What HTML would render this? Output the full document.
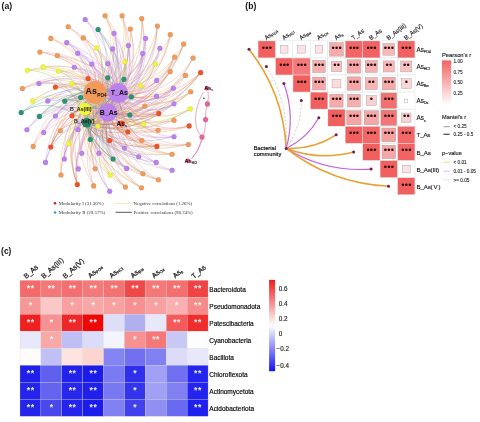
<!DOCTYPE html>
<html><head><meta charset="utf-8"><style>
html,body{margin:0;padding:0;background:#fff;}
body{width:480px;height:422px;overflow:hidden;font-family:"Liberation Sans",sans-serif;}
svg{display:block;filter:blur(0.3px);}
</style></head><body>
<svg width="480" height="422" viewBox="0 0 480 422">
<rect width="480" height="422" fill="#fff"/>
<g fill="none" stroke-width="0.55" stroke-opacity="0.62">
<path d="M68.2,26.7C95.7,42.8 113.5,65.3 118.3,92.9" stroke="#de918d"/>
<path d="M68.2,26.7C96.9,46.4 111.5,79.6 108.0,112.5" stroke="#de918d"/>
<path d="M68.2,26.7C92.2,44.6 98.0,68.2 95.1,92.4" stroke="#f29a5a"/>
<path d="M50.8,38.4C80.0,47.6 93.8,66.4 95.1,92.4" stroke="#f29a5a"/>
<path d="M50.8,38.4C81.8,51.6 102.1,81.6 108.0,112.5" stroke="#de918d"/>
<path d="M50.8,38.4C80.0,51.8 89.5,80.6 84.7,109.0" stroke="#f0ba4f"/>
<path d="M39.8,52.1C72.5,53.4 102.0,66.8 118.3,92.9" stroke="#de918d"/>
<path d="M39.8,52.1C73.2,57.2 99.0,81.5 108.0,112.5" stroke="#de918d"/>
<path d="M39.8,52.1C68.1,56.3 84.7,71.8 95.1,92.4" stroke="#f29a5a"/>
<path d="M57.3,55.5C80.0,60.9 91.2,73.7 95.1,92.4" stroke="#f29a5a"/>
<path d="M57.3,55.5C83.3,59.5 106.2,71.5 118.3,92.9" stroke="#de918d"/>
<path d="M57.3,55.5C84.1,63.0 103.7,85.7 108.0,112.5" stroke="#de918d"/>
<path d="M22.4,88.6C53.6,71.9 90.5,70.7 118.3,92.9" stroke="#de918d"/>
<path d="M22.4,88.6C49.6,76.2 74.0,78.2 95.1,92.4" stroke="#f29a5a"/>
<path d="M22.4,88.6C54.3,76.3 87.6,86.5 108.0,112.5" stroke="#de918d"/>
<path d="M105.1,15.7C124.3,42.2 129.8,67.1 118.3,92.9" stroke="#de918d"/>
<path d="M105.1,15.7C122.3,46.7 122.0,83.0 108.0,112.5" stroke="#de918d"/>
<path d="M105.1,15.7C120.5,44.7 113.7,71.4 95.1,92.4" stroke="#f29a5a"/>
<path d="M105.1,15.7C119.0,48.3 106.9,84.5 84.7,109.0" stroke="#f0ba4f"/>
<path d="M122.1,15.7C133.5,49.9 127.1,85.6 108.0,112.5" stroke="#de918d"/>
<path d="M122.1,15.7C131.9,48.5 119.0,75.0 95.1,92.4" stroke="#f29a5a"/>
<path d="M122.1,15.7C133.8,45.8 131.7,70.3 118.3,92.9" stroke="#de918d"/>
<path d="M122.1,15.7C130.1,51.6 111.5,87.3 84.7,109.0" stroke="#f0ba4f"/>
<path d="M141.7,18.5C148.1,52.0 140.3,75.3 118.3,92.9" stroke="#de918d"/>
<path d="M141.7,18.5C149.7,56.8 139.0,91.8 108.0,112.5" stroke="#de918d"/>
<path d="M141.7,18.5C144.1,54.5 123.8,79.5 95.1,92.4" stroke="#f29a5a"/>
<path d="M141.7,18.5C144.8,59.8 121.7,101.3 86.7,122.8" stroke="#ac9761"/>
<path d="M130.3,29.0C132.5,58.0 115.1,78.6 95.1,92.4" stroke="#f29a5a"/>
<path d="M130.3,29.0C137.5,56.3 133.4,75.9 118.3,92.9" stroke="#de918d"/>
<path d="M130.3,29.0C137.6,60.6 129.4,91.4 108.0,112.5" stroke="#de918d"/>
<path d="M130.3,29.0C134.0,62.7 113.7,93.7 84.7,109.0" stroke="#f0ba4f"/>
<path d="M83.3,37.9C104.5,52.6 117.8,70.0 118.3,92.9" stroke="#de918d"/>
<path d="M83.3,37.9C103.7,57.3 112.3,86.2 108.0,112.5" stroke="#de918d"/>
<path d="M83.3,37.9C100.9,54.8 102.1,73.8 95.1,92.4" stroke="#f29a5a"/>
<path d="M157.4,26.1C151.4,61.5 124.4,82.5 95.1,92.4" stroke="#f29a5a"/>
<path d="M157.4,26.1C155.6,59.7 141.2,79.4 118.3,92.9" stroke="#de918d"/>
<path d="M157.4,26.1C156.1,64.1 137.9,95.2 108.0,112.5" stroke="#de918d"/>
<path d="M157.4,26.1C153.6,68.0 124.9,106.2 86.7,122.8" stroke="#ac9761"/>
<path d="M170.3,34.6C163.9,69.1 146.2,86.4 118.3,92.9" stroke="#de918d"/>
<path d="M170.3,34.6C162.4,71.9 139.2,99.1 108.0,112.5" stroke="#de918d"/>
<path d="M170.3,34.6C158.1,69.3 126.4,86.4 95.1,92.4" stroke="#f29a5a"/>
<path d="M170.3,34.6C160.6,76.2 126.7,105.5 84.7,109.0" stroke="#f0ba4f"/>
<path d="M183.6,44.1C169.9,81.4 142.7,105.3 108.0,112.5" stroke="#de918d"/>
<path d="M183.6,44.1C165.4,78.6 129.4,92.2 95.1,92.4" stroke="#f29a5a"/>
<path d="M183.6,44.1C170.6,78.2 148.0,91.7 118.3,92.9" stroke="#de918d"/>
<path d="M183.6,44.1C166.1,83.8 126.6,108.2 84.7,109.0" stroke="#f0ba4f"/>
<path d="M183.6,44.1C168.7,86.9 132.0,119.2 86.7,122.8" stroke="#ac9761"/>
<path d="M174.5,57.0C161.6,84.7 142.5,93.5 118.3,92.9" stroke="#de918d"/>
<path d="M174.5,57.0C162.7,89.9 140.3,110.6 108.0,112.5" stroke="#de918d"/>
<path d="M174.5,57.0C157.8,87.5 126.3,98.3 95.1,92.4" stroke="#f29a5a"/>
<path d="M174.5,57.0C159.0,92.4 125.1,119.2 86.7,122.8" stroke="#ac9761"/>
<path d="M193.1,58.0C173.4,88.7 147.2,96.2 118.3,92.9" stroke="#de918d"/>
<path d="M193.1,58.0C174.9,94.8 145.6,115.1 108.0,112.5" stroke="#de918d"/>
<path d="M193.1,58.0C171.6,97.5 131.2,124.0 86.7,122.8" stroke="#ac9761"/>
<path d="M170.3,71.6C155.4,93.0 137.8,96.1 118.3,92.9" stroke="#de918d"/>
<path d="M170.3,71.6C155.2,96.5 133.3,110.3 108.0,112.5" stroke="#de918d"/>
<path d="M170.3,71.6C151.8,96.3 122.0,101.8 95.1,92.4" stroke="#f29a5a"/>
<path d="M185.5,75.4C160.6,99.7 124.9,101.8 95.1,92.4" stroke="#f29a5a"/>
<path d="M185.5,75.4C163.4,108.7 126.6,129.9 86.7,122.8" stroke="#ac9761"/>
<path d="M185.5,75.4C165.0,99.6 142.1,101.7 118.3,92.9" stroke="#de918d"/>
<path d="M60.3,130.8C70.3,113.8 90.3,109.0 108.0,112.5" stroke="#de918d"/>
<path d="M60.3,130.8C65.4,111.2 76.3,96.3 95.1,92.4" stroke="#f29a5a"/>
<path d="M60.3,130.8C70.1,109.7 94.0,93.8 118.3,92.9" stroke="#de918d"/>
<path d="M33.2,146.4C49.7,120.0 80.4,111.2 108.0,112.5" stroke="#de918d"/>
<path d="M33.2,146.4C48.2,113.4 81.9,91.6 118.3,92.9" stroke="#de918d"/>
<path d="M33.2,146.4C43.9,115.6 64.9,95.3 95.1,92.4" stroke="#f29a5a"/>
<path d="M61.0,175.0C60.9,142.9 81.0,121.5 108.0,112.5" stroke="#de918d"/>
<path d="M61.0,175.0C58.6,141.9 71.7,111.7 95.1,92.4" stroke="#f29a5a"/>
<path d="M61.0,175.0C62.5,139.9 88.0,108.4 118.3,92.9" stroke="#de918d"/>
<path d="M190.7,91.8C164.8,109.4 140.2,103.6 118.3,92.9" stroke="#de918d"/>
<path d="M190.7,91.8C164.9,114.0 136.2,119.8 108.0,112.5" stroke="#de918d"/>
<path d="M190.7,91.8C162.0,117.0 122.6,129.3 86.7,122.8" stroke="#ac9761"/>
<path d="M190.7,91.8C160.9,111.4 123.9,107.1 95.1,92.4" stroke="#f29a5a"/>
<path d="M190.7,91.8C160.8,116.7 119.6,123.2 84.7,109.0" stroke="#f0ba4f"/>
<path d="M144.8,106.0C127.2,113.6 107.2,106.9 95.1,92.4" stroke="#f29a5a"/>
<path d="M144.8,106.0C131.7,115.0 120.3,117.4 108.0,112.5" stroke="#de918d"/>
<path d="M144.8,106.0C131.5,110.3 124.1,101.3 118.3,92.9" stroke="#de918d"/>
<path d="M144.8,106.0C127.4,116.8 103.3,119.4 84.7,109.0" stroke="#f0ba4f"/>
<path d="M144.8,106.0C129.4,119.8 107.7,130.2 86.7,122.8" stroke="#ac9761"/>
<path d="M174.0,120.2C143.7,129.0 113.2,116.4 95.1,92.4" stroke="#f29a5a"/>
<path d="M174.0,120.2C148.0,131.2 126.2,128.5 108.0,112.5" stroke="#de918d"/>
<path d="M174.0,120.2C147.4,127.0 129.1,113.1 118.3,92.9" stroke="#de918d"/>
<path d="M158.1,130.3C131.7,131.0 107.9,113.9 95.1,92.4" stroke="#f29a5a"/>
<path d="M158.1,130.3C134.9,129.8 122.8,112.0 118.3,92.9" stroke="#de918d"/>
<path d="M158.1,130.3C135.7,133.3 120.1,126.1 108.0,112.5" stroke="#de918d"/>
<path d="M158.1,130.3C131.0,136.3 102.4,130.2 84.7,109.0" stroke="#f0ba4f"/>
<path d="M141.8,140.5C117.8,135.6 99.4,116.2 95.1,92.4" stroke="#f29a5a"/>
<path d="M141.8,140.5C122.6,137.1 113.2,126.9 108.0,112.5" stroke="#de918d"/>
<path d="M141.8,140.5C118.2,139.2 95.9,129.1 84.7,109.0" stroke="#f0ba4f"/>
<path d="M141.8,140.5C122.6,132.7 117.2,111.2 118.3,92.9" stroke="#de918d"/>
<path d="M188.4,144.5C151.6,146.3 128.4,123.2 118.3,92.9" stroke="#de918d"/>
<path d="M188.4,144.5C152.4,150.2 125.7,138.1 108.0,112.5" stroke="#de918d"/>
<path d="M188.4,144.5C147.4,149.3 111.7,128.5 95.1,92.4" stroke="#f29a5a"/>
<path d="M188.4,144.5C150.2,153.2 113.3,147.5 86.7,122.8" stroke="#ac9761"/>
<path d="M95.1,168.8C84.8,141.9 96.5,111.1 118.3,92.9" stroke="#de918d"/>
<path d="M95.1,168.8C80.4,144.4 79.2,115.3 95.1,92.4" stroke="#f29a5a"/>
<path d="M95.1,168.8C86.5,146.6 95.4,127.4 108.0,112.5" stroke="#de918d"/>
<path d="M93.7,185.9C82.5,153.6 96.8,117.1 118.3,92.9" stroke="#de918d"/>
<path d="M93.7,185.9C80.4,157.4 88.9,131.6 108.0,112.5" stroke="#de918d"/>
<path d="M93.7,185.9C75.1,155.4 74.2,120.1 95.1,92.4" stroke="#f29a5a"/>
<path d="M125.4,187.0C101.0,160.5 101.7,122.5 118.3,92.9" stroke="#de918d"/>
<path d="M125.4,187.0C98.6,162.5 88.2,125.9 95.1,92.4" stroke="#f29a5a"/>
<path d="M125.4,187.0C101.0,165.0 97.7,138.5 108.0,112.5" stroke="#de918d"/>
<path d="M125.4,187.0C98.1,169.5 84.0,150.7 86.7,122.8" stroke="#ac9761"/>
<path d="M125.4,187.0C99.2,165.8 85.1,138.6 84.7,109.0" stroke="#f0ba4f"/>
<path d="M172.1,154.2C138.6,149.1 121.5,122.6 118.3,92.9" stroke="#de918d"/>
<path d="M172.1,154.2C135.8,150.3 107.2,124.6 95.1,92.4" stroke="#f29a5a"/>
<path d="M172.1,154.2C139.8,152.7 119.5,137.0 108.0,112.5" stroke="#de918d"/>
<path d="M172.1,154.2C137.1,157.3 106.0,149.3 86.7,122.8" stroke="#ac9761"/>
<path d="M172.1,154.2C134.6,156.3 100.9,142.0 84.7,109.0" stroke="#f0ba4f"/>
<path d="M142.9,173.7C116.5,159.5 107.4,137.2 108.0,112.5" stroke="#de918d"/>
<path d="M142.9,173.7C117.5,154.8 113.3,120.9 118.3,92.9" stroke="#de918d"/>
<path d="M142.9,173.7C111.5,157.9 93.3,126.3 95.1,92.4" stroke="#f29a5a"/>
<path d="M142.9,173.7C114.1,163.2 94.5,148.0 86.7,122.8" stroke="#ac9761"/>
<path d="M158.4,179.8C119.5,166.0 94.8,132.6 95.1,92.4" stroke="#f29a5a"/>
<path d="M158.4,179.8C124.1,167.8 108.2,143.8 108.0,112.5" stroke="#de918d"/>
<path d="M158.4,179.8C122.8,170.9 97.4,153.5 86.7,122.8" stroke="#ac9761"/>
<path d="M158.4,179.8C126.0,162.1 115.8,125.7 118.3,92.9" stroke="#de918d"/>
<path d="M141.4,187.8C111.5,169.0 102.5,142.0 108.0,112.5" stroke="#de918d"/>
<path d="M141.4,187.8C109.8,165.8 94.1,128.2 95.1,92.4" stroke="#f29a5a"/>
<path d="M141.4,187.8C110.9,164.6 105.3,126.2 118.3,92.9" stroke="#de918d"/>
<path d="M141.4,187.8C110.9,171.8 92.7,151.0 86.7,122.8" stroke="#ac9761"/>
<path d="M141.4,187.8C107.9,170.7 86.5,143.6 84.7,109.0" stroke="#f0ba4f"/>
<path d="M66.7,42.6C92.6,56.8 108.0,84.2 108.0,112.5" stroke="#bb82ec"/>
<path d="M66.7,42.6C88.1,58.5 90.8,86.0 84.7,109.0" stroke="#ccaaae"/>
<path d="M66.7,42.6C89.6,54.0 97.6,71.2 95.1,92.4" stroke="#ce8ab8"/>
<path d="M66.7,42.6C91.9,53.0 110.9,69.6 118.3,92.9" stroke="#bb82ec"/>
<path d="M66.7,42.6C91.1,60.3 97.0,94.7 86.7,122.8" stroke="#8888c0"/>
<path d="M77.7,53.2C98.8,65.5 111.4,88.3 108.0,112.5" stroke="#bb82ec"/>
<path d="M77.7,53.2C97.8,61.4 113.8,73.2 118.3,92.9" stroke="#bb82ec"/>
<path d="M77.7,53.2C94.4,63.6 98.3,76.9 95.1,92.4" stroke="#ce8ab8"/>
<path d="M74.3,67.3C93.1,74.4 106.7,92.4 108.0,112.5" stroke="#bb82ec"/>
<path d="M74.3,67.3C92.7,69.9 110.2,76.4 118.3,92.9" stroke="#bb82ec"/>
<path d="M74.3,67.3C88.5,76.4 89.3,94.6 84.7,109.0" stroke="#ccaaae"/>
<path d="M38.9,83.5C65.6,78.8 92.1,92.3 108.0,112.5" stroke="#bb82ec"/>
<path d="M38.9,83.5C61.8,75.4 80.1,78.2 95.1,92.4" stroke="#ce8ab8"/>
<path d="M38.9,83.5C65.5,74.5 96.0,76.9 118.3,92.9" stroke="#bb82ec"/>
<path d="M38.9,83.5C61.8,79.5 76.0,92.3 84.7,109.0" stroke="#ccaaae"/>
<path d="M85.2,19.5C110.4,45.0 119.1,80.2 108.0,112.5" stroke="#bb82ec"/>
<path d="M85.2,19.5C105.2,43.1 104.8,68.8 95.1,92.4" stroke="#ce8ab8"/>
<path d="M85.2,19.5C110.1,40.5 122.8,64.4 118.3,92.9" stroke="#bb82ec"/>
<path d="M114.0,33.3C122.5,58.4 112.7,78.5 95.1,92.4" stroke="#ce8ab8"/>
<path d="M114.0,33.3C125.6,60.2 123.3,89.8 108.0,112.5" stroke="#bb82ec"/>
<path d="M114.0,33.3C123.7,64.1 111.3,101.0 86.7,122.8" stroke="#8888c0"/>
<path d="M114.0,33.3C126.6,55.8 129.3,74.1 118.3,92.9" stroke="#bb82ec"/>
<path d="M145.5,38.4C143.0,69.2 122.2,87.4 95.1,92.4" stroke="#ce8ab8"/>
<path d="M145.5,38.4C145.6,65.7 136.1,81.4 118.3,92.9" stroke="#bb82ec"/>
<path d="M145.5,38.4C147.5,70.8 135.3,98.4 108.0,112.5" stroke="#bb82ec"/>
<path d="M145.5,38.4C143.2,73.1 118.3,101.1 84.7,109.0" stroke="#ccaaae"/>
<path d="M128.4,45.5C132.5,66.9 129.2,80.4 118.3,92.9" stroke="#bb82ec"/>
<path d="M128.4,45.5C129.8,69.8 115.2,85.5 95.1,92.4" stroke="#ce8ab8"/>
<path d="M128.4,45.5C133.3,71.3 126.5,96.2 108.0,112.5" stroke="#bb82ec"/>
<path d="M128.4,45.5C129.3,74.4 110.9,105.9 86.7,122.8" stroke="#8888c0"/>
<path d="M112.7,48.9C117.0,67.9 106.9,82.0 95.1,92.4" stroke="#ce8ab8"/>
<path d="M112.7,48.9C122.8,70.4 122.4,94.4 108.0,112.5" stroke="#bb82ec"/>
<path d="M112.7,48.9C122.5,65.9 125.9,78.5 118.3,92.9" stroke="#bb82ec"/>
<path d="M112.7,48.9C117.0,71.7 102.6,95.4 84.7,109.0" stroke="#ccaaae"/>
<path d="M142.6,53.6C141.2,75.6 133.6,86.1 118.3,92.9" stroke="#bb82ec"/>
<path d="M142.6,53.6C142.0,80.2 130.9,102.2 108.0,112.5" stroke="#bb82ec"/>
<path d="M142.6,53.6C138.0,83.1 115.2,111.5 86.7,122.8" stroke="#8888c0"/>
<path d="M142.6,53.6C136.1,76.7 115.3,88.0 95.1,92.4" stroke="#ce8ab8"/>
<path d="M91.8,64.0C105.8,75.8 113.3,94.6 108.0,112.5" stroke="#bb82ec"/>
<path d="M91.8,64.0C101.0,74.0 99.7,83.2 95.1,92.4" stroke="#ce8ab8"/>
<path d="M91.8,64.0C105.3,71.2 116.6,78.5 118.3,92.9" stroke="#bb82ec"/>
<path d="M107.9,63.6C115.9,79.1 117.0,97.8 108.0,112.5" stroke="#bb82ec"/>
<path d="M107.9,63.6C112.4,81.3 101.5,100.4 84.7,109.0" stroke="#ccaaae"/>
<path d="M107.9,63.6C111.7,77.1 104.4,86.2 95.1,92.4" stroke="#ce8ab8"/>
<path d="M107.9,63.6C115.2,74.9 119.9,82.4 118.3,92.9" stroke="#bb82ec"/>
<path d="M159.9,48.3C149.5,77.8 122.9,91.5 95.1,92.4" stroke="#ce8ab8"/>
<path d="M159.9,48.3C153.4,79.5 135.0,102.5 108.0,112.5" stroke="#bb82ec"/>
<path d="M159.9,48.3C152.8,74.8 138.0,86.2 118.3,92.9" stroke="#bb82ec"/>
<path d="M159.9,48.3C148.6,80.5 117.0,102.9 84.7,109.0" stroke="#ccaaae"/>
<path d="M156.7,80.4C140.4,97.3 115.4,98.4 95.1,92.4" stroke="#ce8ab8"/>
<path d="M156.7,80.4C144.5,95.8 132.0,95.8 118.3,92.9" stroke="#bb82ec"/>
<path d="M156.7,80.4C144.3,99.6 127.6,110.4 108.0,112.5" stroke="#bb82ec"/>
<path d="M173.4,88.2C154.1,108.4 131.7,116.3 108.0,112.5" stroke="#bb82ec"/>
<path d="M173.4,88.2C154.1,105.3 135.8,102.8 118.3,92.9" stroke="#bb82ec"/>
<path d="M173.4,88.2C150.1,107.0 119.4,105.7 95.1,92.4" stroke="#ce8ab8"/>
<path d="M173.4,88.2C152.0,113.3 119.3,129.0 86.7,122.8" stroke="#8888c0"/>
<path d="M47.8,100.9C68.4,90.5 92.4,96.3 108.0,112.5" stroke="#bb82ec"/>
<path d="M47.8,100.9C67.8,86.0 95.4,80.2 118.3,92.9" stroke="#bb82ec"/>
<path d="M47.8,100.9C63.8,94.0 74.8,101.0 84.7,109.0" stroke="#ccaaae"/>
<path d="M47.8,100.9C64.1,90.3 79.6,87.8 95.1,92.4" stroke="#ce8ab8"/>
<path d="M55.4,116.0C69.6,97.9 94.6,86.8 118.3,92.9" stroke="#bb82ec"/>
<path d="M55.4,116.0C66.2,101.5 79.3,92.9 95.1,92.4" stroke="#ce8ab8"/>
<path d="M55.4,116.0C70.2,103.8 91.7,105.1 108.0,112.5" stroke="#bb82ec"/>
<path d="M26.9,129.7C47.8,101.4 83.7,86.1 118.3,92.9" stroke="#bb82ec"/>
<path d="M26.9,129.7C48.3,106.1 80.4,102.4 108.0,112.5" stroke="#bb82ec"/>
<path d="M26.9,129.7C44.1,108.2 63.6,104.7 84.7,109.0" stroke="#ccaaae"/>
<path d="M43.6,132.5C58.8,111.5 84.9,106.3 108.0,112.5" stroke="#bb82ec"/>
<path d="M43.6,132.5C57.7,105.7 87.1,88.1 118.3,92.9" stroke="#bb82ec"/>
<path d="M43.6,132.5C55.0,110.0 72.9,95.7 95.1,92.4" stroke="#ce8ab8"/>
<path d="M77.9,129.5C78.0,114.7 83.0,100.3 95.1,92.4" stroke="#ce8ab8"/>
<path d="M77.9,129.5C82.2,116.5 95.6,111.6 108.0,112.5" stroke="#bb82ec"/>
<path d="M77.9,129.5C82.1,112.5 99.6,96.6 118.3,92.9" stroke="#bb82ec"/>
<path d="M64.4,159.0C67.7,129.8 91.3,103.9 118.3,92.9" stroke="#bb82ec"/>
<path d="M64.4,159.0C66.6,133.0 85.2,117.4 108.0,112.5" stroke="#bb82ec"/>
<path d="M64.4,159.0C64.3,137.2 72.6,129.1 86.7,122.8" stroke="#8888c0"/>
<path d="M64.4,159.0C62.9,135.3 69.3,120.2 84.7,109.0" stroke="#ccaaae"/>
<path d="M45.5,162.4C48.4,128.9 64.8,102.5 95.1,92.4" stroke="#ce8ab8"/>
<path d="M45.5,162.4C53.9,131.8 80.0,115.9 108.0,112.5" stroke="#bb82ec"/>
<path d="M45.5,162.4C51.9,136.3 67.9,128.0 86.7,122.8" stroke="#8888c0"/>
<path d="M78.3,168.9C70.4,141.0 76.3,112.3 95.1,92.4" stroke="#ce8ab8"/>
<path d="M78.3,168.9C69.6,144.8 70.7,125.7 84.7,109.0" stroke="#ccaaae"/>
<path d="M78.3,168.9C75.1,143.4 89.9,124.6 108.0,112.5" stroke="#bb82ec"/>
<path d="M124.5,148.0C110.1,138.3 107.6,125.6 108.0,112.5" stroke="#bb82ec"/>
<path d="M124.5,148.0C104.8,136.8 92.9,114.9 95.1,92.4" stroke="#ce8ab8"/>
<path d="M124.5,148.0C107.1,142.4 93.6,137.0 86.7,122.8" stroke="#8888c0"/>
<path d="M124.5,148.0C109.4,134.3 110.4,110.5 118.3,92.9" stroke="#bb82ec"/>
<path d="M156.5,96.2C141.2,106.3 129.2,100.7 118.3,92.9" stroke="#bb82ec"/>
<path d="M156.5,96.2C141.7,111.4 125.9,117.6 108.0,112.5" stroke="#bb82ec"/>
<path d="M156.5,96.2C137.3,108.4 112.9,104.1 95.1,92.4" stroke="#ce8ab8"/>
<path d="M174.0,103.7C151.4,118.2 129.1,119.8 108.0,112.5" stroke="#bb82ec"/>
<path d="M174.0,103.7C147.4,117.2 116.7,109.9 95.1,92.4" stroke="#ce8ab8"/>
<path d="M174.0,103.7C151.1,115.9 132.8,107.8 118.3,92.9" stroke="#bb82ec"/>
<path d="M174.0,103.7C149.3,124.4 116.8,135.0 86.7,122.8" stroke="#8888c0"/>
<path d="M174.0,136.7C144.8,141.1 123.5,131.4 108.0,112.5" stroke="#bb82ec"/>
<path d="M174.0,136.7C142.3,144.8 110.5,142.1 86.7,122.8" stroke="#8888c0"/>
<path d="M174.0,136.7C139.6,140.9 109.0,123.0 95.1,92.4" stroke="#ce8ab8"/>
<path d="M174.0,136.7C145.2,136.0 128.4,114.5 118.3,92.9" stroke="#bb82ec"/>
<path d="M81.8,153.3C80.6,133.8 93.7,120.6 108.0,112.5" stroke="#bb82ec"/>
<path d="M81.8,153.3C75.2,131.2 78.8,108.0 95.1,92.4" stroke="#ce8ab8"/>
<path d="M81.8,153.3C79.7,129.0 96.3,104.3 118.3,92.9" stroke="#bb82ec"/>
<path d="M98.9,153.3C90.7,132.4 100.8,107.3 118.3,92.9" stroke="#bb82ec"/>
<path d="M98.9,153.3C87.5,134.8 85.7,111.3 95.1,92.4" stroke="#ce8ab8"/>
<path d="M98.9,153.3C87.4,138.6 81.3,124.7 84.7,109.0" stroke="#ccaaae"/>
<path d="M138.7,156.7C117.2,142.9 113.4,115.6 118.3,92.9" stroke="#bb82ec"/>
<path d="M138.7,156.7C116.2,148.0 107.4,132.6 108.0,112.5" stroke="#bb82ec"/>
<path d="M138.7,156.7C111.8,146.1 94.4,121.0 95.1,92.4" stroke="#ce8ab8"/>
<path d="M138.7,156.7C111.8,150.3 90.3,135.3 84.7,109.0" stroke="#ccaaae"/>
<path d="M138.7,156.7C114.9,150.8 96.6,141.7 86.7,122.8" stroke="#8888c0"/>
<path d="M126.7,168.4C105.1,148.5 104.6,117.4 118.3,92.9" stroke="#bb82ec"/>
<path d="M126.7,168.4C103.3,150.3 91.9,120.5 95.1,92.4" stroke="#ce8ab8"/>
<path d="M126.7,168.4C106.6,152.7 103.1,132.8 108.0,112.5" stroke="#bb82ec"/>
<path d="M126.7,168.4C103.6,157.1 89.3,144.7 86.7,122.8" stroke="#8888c0"/>
<path d="M126.7,168.4C101.8,155.0 85.1,135.4 84.7,109.0" stroke="#ccaaae"/>
<path d="M109.7,191.2C91.2,160.0 99.0,120.9 118.3,92.9" stroke="#bb82ec"/>
<path d="M109.7,191.2C89.3,164.4 91.5,136.5 108.0,112.5" stroke="#bb82ec"/>
<path d="M109.7,191.2C87.7,162.1 83.4,124.4 95.1,92.4" stroke="#ce8ab8"/>
<path d="M156.2,162.4C128.6,153.8 115.0,134.7 108.0,112.5" stroke="#bb82ec"/>
<path d="M156.2,162.4C126.1,151.1 114.8,121.9 118.3,92.9" stroke="#bb82ec"/>
<path d="M156.2,162.4C125.5,158.0 101.0,146.2 86.7,122.8" stroke="#8888c0"/>
<path d="M172.1,170.3C136.6,158.7 120.8,125.6 118.3,92.9" stroke="#bb82ec"/>
<path d="M172.1,170.3C131.0,162.5 101.6,132.2 95.1,92.4" stroke="#ce8ab8"/>
<path d="M172.1,170.3C132.3,165.0 99.8,143.3 84.7,109.0" stroke="#ccaaae"/>
<path d="M27.5,70.3C57.0,64.2 79.3,72.0 95.1,92.4" stroke="#f0be4e"/>
<path d="M27.5,70.3C61.8,65.5 93.0,82.4 108.0,112.5" stroke="#cfb0a5"/>
<path d="M27.5,70.3C61.1,61.3 95.8,67.1 118.3,92.9" stroke="#cfb0a5"/>
<path d="M27.5,70.3C57.3,67.9 75.7,85.4 84.7,109.0" stroke="#eef63c"/>
<path d="M27.5,70.3C58.4,71.0 78.3,96.4 86.7,122.8" stroke="#78bb5b"/>
<path d="M43.2,66.9C68.1,65.5 84.6,74.5 95.1,92.4" stroke="#f0be4e"/>
<path d="M43.2,66.9C71.6,68.8 95.9,88.4 108.0,112.5" stroke="#cfb0a5"/>
<path d="M43.2,66.9C71.9,63.4 100.7,70.9 118.3,92.9" stroke="#cfb0a5"/>
<path d="M43.2,66.9C68.2,69.4 80.6,88.2 84.7,109.0" stroke="#eef63c"/>
<path d="M58.4,71.0C81.1,69.6 104.3,75.6 118.3,92.9" stroke="#cfb0a5"/>
<path d="M58.4,71.0C77.6,71.2 88.7,78.2 95.1,92.4" stroke="#f0be4e"/>
<path d="M58.4,71.0C82.3,72.7 102.4,89.0 108.0,112.5" stroke="#cfb0a5"/>
<path d="M58.4,71.0C78.7,77.8 87.3,102.3 86.7,122.8" stroke="#78bb5b"/>
<path d="M71.9,83.8C83.6,83.0 89.8,85.4 95.1,92.4" stroke="#f0be4e"/>
<path d="M71.9,83.8C85.1,89.1 89.1,108.5 86.7,122.8" stroke="#78bb5b"/>
<path d="M71.9,83.8C87.6,80.2 106.3,80.6 118.3,92.9" stroke="#cfb0a5"/>
<path d="M71.9,83.8C87.4,85.6 101.7,98.2 108.0,112.5" stroke="#cfb0a5"/>
<path d="M96.5,47.9C106.7,64.2 102.7,79.3 95.1,92.4" stroke="#f0be4e"/>
<path d="M96.5,47.9C110.7,66.4 115.0,91.3 108.0,112.5" stroke="#cfb0a5"/>
<path d="M96.5,47.9C110.5,62.3 118.7,76.0 118.3,92.9" stroke="#cfb0a5"/>
<path d="M96.5,47.9C108.8,70.2 102.9,102.1 86.7,122.8" stroke="#78bb5b"/>
<path d="M125.0,61.6C123.7,79.5 110.2,89.1 95.1,92.4" stroke="#f0be4e"/>
<path d="M125.0,61.6C127.9,77.1 127.0,85.0 118.3,92.9" stroke="#cfb0a5"/>
<path d="M125.0,61.6C128.0,81.4 123.1,100.6 108.0,112.5" stroke="#cfb0a5"/>
<path d="M125.0,61.6C124.2,83.7 106.9,103.3 84.7,109.0" stroke="#eef63c"/>
<path d="M125.0,61.6C125.5,85.4 110.1,111.9 86.7,122.8" stroke="#78bb5b"/>
<path d="M140.7,85.7C128.8,98.1 109.9,98.0 95.1,92.4" stroke="#f0be4e"/>
<path d="M140.7,85.7C132.9,96.5 126.5,95.3 118.3,92.9" stroke="#cfb0a5"/>
<path d="M140.7,85.7C133.6,101.1 123.6,111.5 108.0,112.5" stroke="#cfb0a5"/>
<path d="M155.2,64.0C142.8,86.7 118.0,94.2 95.1,92.4" stroke="#f0be4e"/>
<path d="M155.2,64.0C146.8,88.7 130.3,105.8 108.0,112.5" stroke="#cfb0a5"/>
<path d="M155.2,64.0C146.9,84.7 134.5,90.8 118.3,92.9" stroke="#cfb0a5"/>
<path d="M155.2,64.0C142.8,90.6 113.8,107.9 84.7,109.0" stroke="#eef63c"/>
<path d="M32.6,100.9C57.7,82.7 90.9,77.2 118.3,92.9" stroke="#cfb0a5"/>
<path d="M32.6,100.9C53.8,85.4 74.6,81.9 95.1,92.4" stroke="#f0be4e"/>
<path d="M32.6,100.9C58.1,88.6 87.5,95.6 108.0,112.5" stroke="#cfb0a5"/>
<path d="M32.6,100.9C53.7,91.0 70.3,98.6 84.7,109.0" stroke="#eef63c"/>
<path d="M68.6,143.6C72.8,123.7 89.8,113.7 108.0,112.5" stroke="#cfb0a5"/>
<path d="M68.6,143.6C68.9,122.1 77.6,102.8 95.1,92.4" stroke="#f0be4e"/>
<path d="M68.6,143.6C73.8,120.7 95.6,100.5 118.3,92.9" stroke="#cfb0a5"/>
<path d="M68.6,143.6C68.9,126.0 73.4,116.4 84.7,109.0" stroke="#eef63c"/>
<path d="M97.8,126.0C96.2,114.3 106.5,99.3 118.3,92.9" stroke="#cfb0a5"/>
<path d="M97.8,126.0C96.1,118.4 102.1,114.4 108.0,112.5" stroke="#cfb0a5"/>
<path d="M97.8,126.0C91.6,116.5 88.9,103.0 95.1,92.4" stroke="#f0be4e"/>
<path d="M97.8,126.0C91.9,120.4 85.2,116.7 84.7,109.0" stroke="#eef63c"/>
<path d="M190.3,108.9C160.7,123.4 136.4,113.6 118.3,92.9" stroke="#cfb0a5"/>
<path d="M190.3,108.9C157.1,128.1 116.4,128.5 84.7,109.0" stroke="#eef63c"/>
<path d="M190.3,108.9C157.0,124.7 120.5,115.7 95.1,92.4" stroke="#f0be4e"/>
<path d="M190.3,108.9C161.3,126.7 133.4,127.4 108.0,112.5" stroke="#cfb0a5"/>
<path d="M190.3,108.9C158.7,129.1 120.1,135.9 86.7,122.8" stroke="#78bb5b"/>
<path d="M143.6,124.0C123.4,123.9 104.7,109.5 95.1,92.4" stroke="#f0be4e"/>
<path d="M143.6,124.0C127.1,126.7 116.5,122.7 108.0,112.5" stroke="#cfb0a5"/>
<path d="M143.6,124.0C126.6,122.5 119.8,107.2 118.3,92.9" stroke="#cfb0a5"/>
<path d="M143.6,124.0C122.9,128.2 99.7,123.8 84.7,109.0" stroke="#eef63c"/>
<path d="M110.2,175.1C89.1,151.9 82.6,120.3 95.1,92.4" stroke="#f0be4e"/>
<path d="M110.2,175.1C94.5,153.7 97.3,131.7 108.0,112.5" stroke="#cfb0a5"/>
<path d="M110.2,175.1C95.1,149.5 102.6,116.2 118.3,92.9" stroke="#cfb0a5"/>
<path d="M110.2,175.1C89.4,155.8 78.9,134.0 84.7,109.0" stroke="#eef63c"/>
<path d="M55.4,87.0C72.0,81.3 84.3,82.7 95.1,92.4" stroke="#ef6c39"/>
<path d="M55.4,87.0C75.9,84.4 96.4,96.2 108.0,112.5" stroke="#dc646c"/>
<path d="M55.4,87.0C73.3,88.0 83.4,106.7 86.7,122.8" stroke="#a96a41"/>
<path d="M88.1,78.6C99.4,80.5 112.0,82.8 118.3,92.9" stroke="#dc646c"/>
<path d="M88.1,78.6C99.4,85.1 107.8,98.9 108.0,112.5" stroke="#dc646c"/>
<path d="M88.1,78.6C95.4,86.8 91.4,100.5 84.7,109.0" stroke="#ee8c2f"/>
<path d="M72.0,115.8C81.2,106.0 96.5,106.2 108.0,112.5" stroke="#dc646c"/>
<path d="M72.0,115.8C81.0,102.1 100.2,91.3 118.3,92.9" stroke="#dc646c"/>
<path d="M72.0,115.8C77.4,104.7 84.6,95.9 95.1,92.4" stroke="#ef6c39"/>
<path d="M50.8,147.0C60.5,118.5 88.2,96.9 118.3,92.9" stroke="#dc646c"/>
<path d="M50.8,147.0C55.7,123.9 66.2,113.0 84.7,109.0" stroke="#ee8c2f"/>
<path d="M50.8,147.0C60.3,122.1 83.8,111.2 108.0,112.5" stroke="#dc646c"/>
<path d="M50.8,147.0C57.0,121.1 72.7,101.4 95.1,92.4" stroke="#ef6c39"/>
<path d="M50.8,147.0C57.7,126.0 70.7,122.3 86.7,122.8" stroke="#a96a41"/>
<path d="M77.3,184.5C65.6,151.0 71.6,116.5 95.1,92.4" stroke="#ef6c39"/>
<path d="M77.3,184.5C71.4,153.5 87.0,129.1 108.0,112.5" stroke="#dc646c"/>
<path d="M77.3,184.5C70.5,148.9 89.6,113.0 118.3,92.9" stroke="#dc646c"/>
<path d="M77.3,184.5C66.1,155.0 68.3,130.3 84.7,109.0" stroke="#ee8c2f"/>
<path d="M77.3,184.5C67.6,157.0 71.7,139.5 86.7,122.8" stroke="#a96a41"/>
<path d="M200.6,72.6C171.1,100.1 129.7,102.2 95.1,92.4" stroke="#ef6c39"/>
<path d="M200.6,72.6C175.7,101.2 147.3,104.2 118.3,92.9" stroke="#dc646c"/>
<path d="M200.6,72.6C176.1,105.3 143.9,119.4 108.0,112.5" stroke="#dc646c"/>
<path d="M200.6,72.6C171.4,106.0 126.1,119.3 84.7,109.0" stroke="#ee8c2f"/>
<path d="M200.6,72.6C173.7,109.4 131.1,131.0 86.7,122.8" stroke="#a96a41"/>
<path d="M158.8,113.6C135.0,121.5 109.9,111.6 95.1,92.4" stroke="#ef6c39"/>
<path d="M158.8,113.6C139.4,122.4 123.1,121.4 108.0,112.5" stroke="#dc646c"/>
<path d="M158.8,113.6C136.9,127.0 110.1,133.7 86.7,122.8" stroke="#a96a41"/>
<path d="M158.8,113.6C139.1,118.5 126.7,106.5 118.3,92.9" stroke="#dc646c"/>
<path d="M189.1,125.9C156.1,134.3 132.3,118.3 118.3,92.9" stroke="#dc646c"/>
<path d="M189.1,125.9C152.4,136.3 116.5,121.7 95.1,92.4" stroke="#ef6c39"/>
<path d="M189.1,125.9C152.8,138.5 113.1,132.1 84.7,109.0" stroke="#ee8c2f"/>
<path d="M156.9,146.4C131.1,139.9 120.1,116.0 118.3,92.9" stroke="#dc646c"/>
<path d="M156.9,146.4C126.3,143.2 102.2,121.7 95.1,92.4" stroke="#ef6c39"/>
<path d="M156.9,146.4C131.0,144.7 115.9,132.5 108.0,112.5" stroke="#dc646c"/>
<path d="M156.9,146.4C126.5,147.2 98.4,135.6 84.7,109.0" stroke="#ee8c2f"/>
<path d="M156.9,146.4C128.9,148.1 103.5,142.6 86.7,122.8" stroke="#a96a41"/>
<path d="M109.7,140.5C100.6,126.2 106.4,105.5 118.3,92.9" stroke="#dc646c"/>
<path d="M109.7,140.5C101.5,130.6 104.0,121.2 108.0,112.5" stroke="#dc646c"/>
<path d="M109.7,140.5C98.3,135.0 89.7,133.2 86.7,122.8" stroke="#a96a41"/>
<path d="M127.8,132.0C110.3,127.0 96.8,111.0 95.1,92.4" stroke="#ef6c39"/>
<path d="M127.8,132.0C115.2,128.5 110.7,121.6 108.0,112.5" stroke="#dc646c"/>
<path d="M127.8,132.0C113.9,124.5 112.6,106.7 118.3,92.9" stroke="#dc646c"/>
<path d="M127.8,132.0C110.7,130.6 93.3,124.0 84.7,109.0" stroke="#ee8c2f"/>
<path d="M127.8,132.0C112.4,132.9 97.2,133.7 86.7,122.8" stroke="#a96a41"/>
<path d="M98.1,29.5C117.6,54.3 122.5,85.5 108.0,112.5" stroke="#5c8d9b"/>
<path d="M98.1,29.5C116.5,49.9 124.7,69.9 118.3,92.9" stroke="#5c8d9b"/>
<path d="M98.1,29.5C111.7,52.3 106.7,74.0 95.1,92.4" stroke="#6f9668"/>
<path d="M107.7,77.8C113.2,88.5 114.9,102.0 108.0,112.5" stroke="#5c8d9b"/>
<path d="M107.7,77.8C112.5,84.2 117.8,86.5 118.3,92.9" stroke="#5c8d9b"/>
<path d="M107.7,77.8C110.0,92.3 100.8,112.9 86.7,122.8" stroke="#2a9470"/>
<path d="M123.9,79.2C119.1,90.8 106.2,93.9 95.1,92.4" stroke="#6f9668"/>
<path d="M123.9,79.2C122.9,88.4 122.2,89.7 118.3,92.9" stroke="#5c8d9b"/>
<path d="M123.9,79.2C119.5,95.2 102.8,108.4 84.7,109.0" stroke="#6eb65d"/>
<path d="M64.8,101.2C75.4,93.6 84.6,90.3 95.1,92.4" stroke="#6f9668"/>
<path d="M64.8,101.2C79.1,90.4 100.6,84.7 118.3,92.9" stroke="#5c8d9b"/>
<path d="M64.8,101.2C75.3,96.7 80.4,102.5 84.7,109.0" stroke="#6eb65d"/>
<path d="M64.8,101.2C79.7,94.3 97.5,99.6 108.0,112.5" stroke="#5c8d9b"/>
<path d="M80.6,97.5C90.5,92.2 106.3,88.4 118.3,92.9" stroke="#5c8d9b"/>
<path d="M80.6,97.5C86.5,93.9 89.7,91.1 95.1,92.4" stroke="#6f9668"/>
<path d="M80.6,97.5C87.8,100.0 88.8,114.3 86.7,122.8" stroke="#2a9470"/>
<path d="M21.2,112.6C48.1,94.1 81.9,97.2 108.0,112.5" stroke="#5c8d9b"/>
<path d="M21.2,112.6C47.9,90.1 85.8,82.2 118.3,92.9" stroke="#5c8d9b"/>
<path d="M21.2,112.6C45.6,97.8 68.9,107.9 86.7,122.8" stroke="#2a9470"/>
<path d="M39.4,116.4C55.3,98.3 74.2,89.9 95.1,92.4" stroke="#6f9668"/>
<path d="M39.4,116.4C59.3,96.2 90.6,86.3 118.3,92.9" stroke="#5c8d9b"/>
<path d="M39.4,116.4C59.5,101.0 86.8,102.7 108.0,112.5" stroke="#5c8d9b"/>
<path d="M131.4,96.8C124.7,106.1 117.9,112.2 108.0,112.5" stroke="#5c8d9b"/>
<path d="M131.4,96.8C120.5,103.7 105.2,99.8 95.1,92.4" stroke="#6f9668"/>
<path d="M131.4,96.8C124.3,101.8 121.4,96.8 118.3,92.9" stroke="#5c8d9b"/>
<path d="M129.9,115.0C119.8,113.4 118.1,101.5 118.3,92.9" stroke="#5c8d9b"/>
<path d="M129.9,115.0C119.8,118.3 114.0,118.1 108.0,112.5" stroke="#5c8d9b"/>
<path d="M129.9,115.0C115.2,116.5 100.5,106.9 95.1,92.4" stroke="#6f9668"/>
<path d="M90.3,139.5C88.3,125.8 97.4,117.1 108.0,112.5" stroke="#5c8d9b"/>
<path d="M90.3,139.5C88.9,122.0 102.6,102.5 118.3,92.9" stroke="#5c8d9b"/>
<path d="M90.3,139.5C84.8,123.9 85.9,105.7 95.1,92.4" stroke="#6f9668"/>
<path d="M113.1,159.0C100.6,139.4 106.8,111.9 118.3,92.9" stroke="#5c8d9b"/>
<path d="M113.1,159.0C96.0,141.4 89.3,115.4 95.1,92.4" stroke="#6f9668"/>
<path d="M113.1,159.0C99.1,143.7 100.1,127.5 108.0,112.5" stroke="#5c8d9b"/>
<path d="M113.1,159.0C97.8,147.0 89.2,137.6 86.7,122.8" stroke="#2a9470"/>
</g>
<g fill="none" stroke="#e86c8c" stroke-width="0.6">
<path d="M203.5,92 C194,108 192.5,128 202,137"/>
<path d="M202,137 Q199,151 191.5,158.5"/>
<path d="M208,92 Q209,97 207.4,104 Q205,112 205.6,119.5 Q206,133 198,150 Q195,155 191.5,158.5"/>
</g>
<circle cx="68.2" cy="26.7" r="2.55" fill="#f29a5a" stroke="#000" stroke-opacity="0.13" stroke-width="0.45"/>
<circle cx="50.8" cy="38.4" r="2.55" fill="#f29a5a" stroke="#000" stroke-opacity="0.13" stroke-width="0.45"/>
<circle cx="39.8" cy="52.1" r="2.55" fill="#f29a5a" stroke="#000" stroke-opacity="0.13" stroke-width="0.45"/>
<circle cx="57.3" cy="55.5" r="2.55" fill="#f29a5a" stroke="#000" stroke-opacity="0.13" stroke-width="0.45"/>
<circle cx="22.4" cy="88.6" r="2.55" fill="#f29a5a" stroke="#000" stroke-opacity="0.13" stroke-width="0.45"/>
<circle cx="105.1" cy="15.7" r="2.55" fill="#f29a5a" stroke="#000" stroke-opacity="0.13" stroke-width="0.45"/>
<circle cx="122.1" cy="15.7" r="2.55" fill="#f29a5a" stroke="#000" stroke-opacity="0.13" stroke-width="0.45"/>
<circle cx="141.7" cy="18.5" r="2.55" fill="#f29a5a" stroke="#000" stroke-opacity="0.13" stroke-width="0.45"/>
<circle cx="130.3" cy="29" r="2.55" fill="#f29a5a" stroke="#000" stroke-opacity="0.13" stroke-width="0.45"/>
<circle cx="83.3" cy="37.9" r="2.55" fill="#f29a5a" stroke="#000" stroke-opacity="0.13" stroke-width="0.45"/>
<circle cx="157.4" cy="26.1" r="2.55" fill="#f29a5a" stroke="#000" stroke-opacity="0.13" stroke-width="0.45"/>
<circle cx="170.3" cy="34.6" r="2.55" fill="#f29a5a" stroke="#000" stroke-opacity="0.13" stroke-width="0.45"/>
<circle cx="183.6" cy="44.1" r="2.55" fill="#f29a5a" stroke="#000" stroke-opacity="0.13" stroke-width="0.45"/>
<circle cx="174.5" cy="57" r="2.55" fill="#f29a5a" stroke="#000" stroke-opacity="0.13" stroke-width="0.45"/>
<circle cx="193.1" cy="58" r="2.55" fill="#f29a5a" stroke="#000" stroke-opacity="0.13" stroke-width="0.45"/>
<circle cx="170.3" cy="71.6" r="2.55" fill="#f29a5a" stroke="#000" stroke-opacity="0.13" stroke-width="0.45"/>
<circle cx="185.5" cy="75.4" r="2.55" fill="#f29a5a" stroke="#000" stroke-opacity="0.13" stroke-width="0.45"/>
<circle cx="60.3" cy="130.8" r="2.55" fill="#f29a5a" stroke="#000" stroke-opacity="0.13" stroke-width="0.45"/>
<circle cx="33.2" cy="146.4" r="2.55" fill="#f29a5a" stroke="#000" stroke-opacity="0.13" stroke-width="0.45"/>
<circle cx="61" cy="175" r="2.55" fill="#f29a5a" stroke="#000" stroke-opacity="0.13" stroke-width="0.45"/>
<circle cx="190.7" cy="91.8" r="2.55" fill="#f29a5a" stroke="#000" stroke-opacity="0.13" stroke-width="0.45"/>
<circle cx="144.8" cy="106" r="2.55" fill="#f29a5a" stroke="#000" stroke-opacity="0.13" stroke-width="0.45"/>
<circle cx="174" cy="120.2" r="2.55" fill="#f29a5a" stroke="#000" stroke-opacity="0.13" stroke-width="0.45"/>
<circle cx="158.1" cy="130.3" r="2.55" fill="#f29a5a" stroke="#000" stroke-opacity="0.13" stroke-width="0.45"/>
<circle cx="141.8" cy="140.5" r="2.55" fill="#f29a5a" stroke="#000" stroke-opacity="0.13" stroke-width="0.45"/>
<circle cx="188.4" cy="144.5" r="2.55" fill="#f29a5a" stroke="#000" stroke-opacity="0.13" stroke-width="0.45"/>
<circle cx="95.1" cy="168.8" r="2.55" fill="#f29a5a" stroke="#000" stroke-opacity="0.13" stroke-width="0.45"/>
<circle cx="93.7" cy="185.9" r="2.55" fill="#f29a5a" stroke="#000" stroke-opacity="0.13" stroke-width="0.45"/>
<circle cx="125.4" cy="187" r="2.55" fill="#f29a5a" stroke="#000" stroke-opacity="0.13" stroke-width="0.45"/>
<circle cx="172.1" cy="154.2" r="2.55" fill="#f29a5a" stroke="#000" stroke-opacity="0.13" stroke-width="0.45"/>
<circle cx="142.9" cy="173.7" r="2.55" fill="#f29a5a" stroke="#000" stroke-opacity="0.13" stroke-width="0.45"/>
<circle cx="158.4" cy="179.8" r="2.55" fill="#f29a5a" stroke="#000" stroke-opacity="0.13" stroke-width="0.45"/>
<circle cx="141.4" cy="187.8" r="2.55" fill="#f29a5a" stroke="#000" stroke-opacity="0.13" stroke-width="0.45"/>
<circle cx="66.7" cy="42.6" r="2.55" fill="#bb82ec" stroke="#000" stroke-opacity="0.13" stroke-width="0.45"/>
<circle cx="77.7" cy="53.2" r="2.55" fill="#bb82ec" stroke="#000" stroke-opacity="0.13" stroke-width="0.45"/>
<circle cx="74.3" cy="67.3" r="2.55" fill="#bb82ec" stroke="#000" stroke-opacity="0.13" stroke-width="0.45"/>
<circle cx="38.9" cy="83.5" r="2.55" fill="#bb82ec" stroke="#000" stroke-opacity="0.13" stroke-width="0.45"/>
<circle cx="85.2" cy="19.5" r="2.55" fill="#bb82ec" stroke="#000" stroke-opacity="0.13" stroke-width="0.45"/>
<circle cx="114" cy="33.3" r="2.55" fill="#bb82ec" stroke="#000" stroke-opacity="0.13" stroke-width="0.45"/>
<circle cx="145.5" cy="38.4" r="2.55" fill="#bb82ec" stroke="#000" stroke-opacity="0.13" stroke-width="0.45"/>
<circle cx="128.4" cy="45.5" r="2.55" fill="#bb82ec" stroke="#000" stroke-opacity="0.13" stroke-width="0.45"/>
<circle cx="112.7" cy="48.9" r="2.55" fill="#bb82ec" stroke="#000" stroke-opacity="0.13" stroke-width="0.45"/>
<circle cx="142.6" cy="53.6" r="2.55" fill="#bb82ec" stroke="#000" stroke-opacity="0.13" stroke-width="0.45"/>
<circle cx="91.8" cy="64" r="2.55" fill="#bb82ec" stroke="#000" stroke-opacity="0.13" stroke-width="0.45"/>
<circle cx="107.9" cy="63.6" r="2.55" fill="#bb82ec" stroke="#000" stroke-opacity="0.13" stroke-width="0.45"/>
<circle cx="159.9" cy="48.3" r="2.55" fill="#bb82ec" stroke="#000" stroke-opacity="0.13" stroke-width="0.45"/>
<circle cx="156.7" cy="80.4" r="2.55" fill="#bb82ec" stroke="#000" stroke-opacity="0.13" stroke-width="0.45"/>
<circle cx="173.4" cy="88.2" r="2.55" fill="#bb82ec" stroke="#000" stroke-opacity="0.13" stroke-width="0.45"/>
<circle cx="47.8" cy="100.9" r="2.55" fill="#bb82ec" stroke="#000" stroke-opacity="0.13" stroke-width="0.45"/>
<circle cx="55.4" cy="116" r="2.55" fill="#bb82ec" stroke="#000" stroke-opacity="0.13" stroke-width="0.45"/>
<circle cx="26.9" cy="129.7" r="2.55" fill="#bb82ec" stroke="#000" stroke-opacity="0.13" stroke-width="0.45"/>
<circle cx="43.6" cy="132.5" r="2.55" fill="#bb82ec" stroke="#000" stroke-opacity="0.13" stroke-width="0.45"/>
<circle cx="77.9" cy="129.5" r="2.55" fill="#bb82ec" stroke="#000" stroke-opacity="0.13" stroke-width="0.45"/>
<circle cx="64.4" cy="159" r="2.55" fill="#bb82ec" stroke="#000" stroke-opacity="0.13" stroke-width="0.45"/>
<circle cx="45.5" cy="162.4" r="2.55" fill="#bb82ec" stroke="#000" stroke-opacity="0.13" stroke-width="0.45"/>
<circle cx="78.3" cy="168.9" r="2.55" fill="#bb82ec" stroke="#000" stroke-opacity="0.13" stroke-width="0.45"/>
<circle cx="124.5" cy="148" r="2.55" fill="#bb82ec" stroke="#000" stroke-opacity="0.13" stroke-width="0.45"/>
<circle cx="156.5" cy="96.2" r="2.55" fill="#bb82ec" stroke="#000" stroke-opacity="0.13" stroke-width="0.45"/>
<circle cx="174" cy="103.7" r="2.55" fill="#bb82ec" stroke="#000" stroke-opacity="0.13" stroke-width="0.45"/>
<circle cx="174" cy="136.7" r="2.55" fill="#bb82ec" stroke="#000" stroke-opacity="0.13" stroke-width="0.45"/>
<circle cx="81.8" cy="153.3" r="2.55" fill="#bb82ec" stroke="#000" stroke-opacity="0.13" stroke-width="0.45"/>
<circle cx="98.9" cy="153.3" r="2.55" fill="#bb82ec" stroke="#000" stroke-opacity="0.13" stroke-width="0.45"/>
<circle cx="138.7" cy="156.7" r="2.55" fill="#bb82ec" stroke="#000" stroke-opacity="0.13" stroke-width="0.45"/>
<circle cx="126.7" cy="168.4" r="2.55" fill="#bb82ec" stroke="#000" stroke-opacity="0.13" stroke-width="0.45"/>
<circle cx="109.7" cy="191.2" r="2.55" fill="#bb82ec" stroke="#000" stroke-opacity="0.13" stroke-width="0.45"/>
<circle cx="156.2" cy="162.4" r="2.55" fill="#bb82ec" stroke="#000" stroke-opacity="0.13" stroke-width="0.45"/>
<circle cx="172.1" cy="170.3" r="2.55" fill="#bb82ec" stroke="#000" stroke-opacity="0.13" stroke-width="0.45"/>
<circle cx="27.5" cy="70.3" r="2.55" fill="#eef63c" stroke="#000" stroke-opacity="0.13" stroke-width="0.45"/>
<circle cx="43.2" cy="66.9" r="2.55" fill="#eef63c" stroke="#000" stroke-opacity="0.13" stroke-width="0.45"/>
<circle cx="58.4" cy="71" r="2.55" fill="#eef63c" stroke="#000" stroke-opacity="0.13" stroke-width="0.45"/>
<circle cx="71.9" cy="83.8" r="2.55" fill="#eef63c" stroke="#000" stroke-opacity="0.13" stroke-width="0.45"/>
<circle cx="96.5" cy="47.9" r="2.55" fill="#eef63c" stroke="#000" stroke-opacity="0.13" stroke-width="0.45"/>
<circle cx="125" cy="61.6" r="2.55" fill="#eef63c" stroke="#000" stroke-opacity="0.13" stroke-width="0.45"/>
<circle cx="140.7" cy="85.7" r="2.55" fill="#eef63c" stroke="#000" stroke-opacity="0.13" stroke-width="0.45"/>
<circle cx="155.2" cy="64" r="2.55" fill="#eef63c" stroke="#000" stroke-opacity="0.13" stroke-width="0.45"/>
<circle cx="32.6" cy="100.9" r="2.55" fill="#eef63c" stroke="#000" stroke-opacity="0.13" stroke-width="0.45"/>
<circle cx="68.6" cy="143.6" r="2.55" fill="#eef63c" stroke="#000" stroke-opacity="0.13" stroke-width="0.45"/>
<circle cx="97.8" cy="126" r="2.55" fill="#eef63c" stroke="#000" stroke-opacity="0.13" stroke-width="0.45"/>
<circle cx="190.3" cy="108.9" r="2.55" fill="#eef63c" stroke="#000" stroke-opacity="0.13" stroke-width="0.45"/>
<circle cx="143.6" cy="124" r="2.55" fill="#eef63c" stroke="#000" stroke-opacity="0.13" stroke-width="0.45"/>
<circle cx="110.2" cy="175.1" r="2.55" fill="#eef63c" stroke="#000" stroke-opacity="0.13" stroke-width="0.45"/>
<circle cx="55.4" cy="87" r="2.55" fill="#ee5428" stroke="#000" stroke-opacity="0.13" stroke-width="0.45"/>
<circle cx="88.1" cy="78.6" r="2.55" fill="#ee5428" stroke="#000" stroke-opacity="0.13" stroke-width="0.45"/>
<circle cx="72" cy="115.8" r="2.55" fill="#ee5428" stroke="#000" stroke-opacity="0.13" stroke-width="0.45"/>
<circle cx="50.8" cy="147" r="2.55" fill="#ee5428" stroke="#000" stroke-opacity="0.13" stroke-width="0.45"/>
<circle cx="77.3" cy="184.5" r="2.55" fill="#ee5428" stroke="#000" stroke-opacity="0.13" stroke-width="0.45"/>
<circle cx="200.6" cy="72.6" r="2.55" fill="#ee5428" stroke="#000" stroke-opacity="0.13" stroke-width="0.45"/>
<circle cx="158.8" cy="113.6" r="2.55" fill="#ee5428" stroke="#000" stroke-opacity="0.13" stroke-width="0.45"/>
<circle cx="189.1" cy="125.9" r="2.55" fill="#ee5428" stroke="#000" stroke-opacity="0.13" stroke-width="0.45"/>
<circle cx="156.9" cy="146.4" r="2.55" fill="#ee5428" stroke="#000" stroke-opacity="0.13" stroke-width="0.45"/>
<circle cx="109.7" cy="140.5" r="2.55" fill="#ee5428" stroke="#000" stroke-opacity="0.13" stroke-width="0.45"/>
<circle cx="127.8" cy="132" r="2.55" fill="#ee5428" stroke="#000" stroke-opacity="0.13" stroke-width="0.45"/>
<circle cx="98.1" cy="29.5" r="2.55" fill="#2a9470" stroke="#000" stroke-opacity="0.13" stroke-width="0.45"/>
<circle cx="107.7" cy="77.8" r="2.55" fill="#2a9470" stroke="#000" stroke-opacity="0.13" stroke-width="0.45"/>
<circle cx="123.9" cy="79.2" r="2.55" fill="#2a9470" stroke="#000" stroke-opacity="0.13" stroke-width="0.45"/>
<circle cx="64.8" cy="101.2" r="2.55" fill="#2a9470" stroke="#000" stroke-opacity="0.13" stroke-width="0.45"/>
<circle cx="80.6" cy="97.5" r="2.55" fill="#2a9470" stroke="#000" stroke-opacity="0.13" stroke-width="0.45"/>
<circle cx="21.2" cy="112.6" r="2.55" fill="#2a9470" stroke="#000" stroke-opacity="0.13" stroke-width="0.45"/>
<circle cx="39.4" cy="116.4" r="2.55" fill="#2a9470" stroke="#000" stroke-opacity="0.13" stroke-width="0.45"/>
<circle cx="131.4" cy="96.8" r="2.55" fill="#2a9470" stroke="#000" stroke-opacity="0.13" stroke-width="0.45"/>
<circle cx="129.9" cy="115" r="2.55" fill="#2a9470" stroke="#000" stroke-opacity="0.13" stroke-width="0.45"/>
<circle cx="90.3" cy="139.5" r="2.55" fill="#2a9470" stroke="#000" stroke-opacity="0.13" stroke-width="0.45"/>
<circle cx="113.1" cy="159" r="2.55" fill="#2a9470" stroke="#000" stroke-opacity="0.13" stroke-width="0.45"/>
<circle cx="207.4" cy="103.9" r="2.55" fill="#e8649a" stroke="#000" stroke-opacity="0.13" stroke-width="0.45"/>
<circle cx="205.6" cy="119.5" r="2.55" fill="#e8649a" stroke="#000" stroke-opacity="0.13" stroke-width="0.45"/>
<circle cx="202" cy="137" r="2.55" fill="#e8649a" stroke="#000" stroke-opacity="0.13" stroke-width="0.45"/>
<circle cx="203.9" cy="98.2" r="0.8" fill="#222"/>
<circle cx="95.1" cy="92.4" r="11.4" fill="#f29a5a"/>
<circle cx="118.3" cy="92.9" r="9.9" fill="#bb82ec"/>
<circle cx="108" cy="112.5" r="9.2" fill="#bb82ec"/>
<circle cx="84.7" cy="109" r="6.3" fill="#eef63c"/>
<circle cx="86.7" cy="122.8" r="4.8" fill="#22805e"/>
<text x="85.6" y="94" font-family="Liberation Sans, sans-serif" font-size="8.8" font-weight="bold" fill="#111">As<tspan font-size="4.6" dy="2.6" dx="0.5">PO4</tspan></text>
<text x="110.8" y="95.3" font-family="Liberation Sans, sans-serif" font-size="7" font-weight="bold" fill="#111">T_As</text>
<text x="99.7" y="114.7" font-family="Liberation Sans, sans-serif" font-size="7" font-weight="bold" fill="#111">B_As</text>
<text x="70" y="111.1" font-family="Liberation Sans, sans-serif" font-size="5.3" font-weight="bold" fill="#111">B_As(III)</text>
<text x="73.9" y="123.4" font-family="Liberation Sans, sans-serif" font-size="5.3" font-weight="bold" fill="#111">B_As(V)</text>
<circle cx="121.5" cy="123.6" r="3.2" fill="#ee5428"/>
<text x="116.6" y="126" font-family="Liberation Sans, sans-serif" font-size="6.6" fill="#2a0604" font-weight="bold">As<tspan font-size="3.8" dy="1.2">s</tspan></text>
<circle cx="207" cy="88.3" r="2.3" fill="#e0507a"/>
<text x="204.2" y="90.3" font-family="Liberation Sans, sans-serif" font-size="5.6" fill="#1e0410" font-weight="bold">As<tspan font-size="3.2" dy="1">s</tspan></text>
<circle cx="188" cy="160.8" r="2.3" fill="#e0507a"/>
<text x="184.6" y="163" font-family="Liberation Sans, sans-serif" font-size="5.6" fill="#1e0410" font-weight="bold">As<tspan font-size="3.2" dy="1">HCl</tspan></text>
<circle cx="55" cy="203.3" r="1.3" fill="#d42020"/>
<circle cx="55" cy="212.5" r="1.3" fill="#20a8d8"/>
<text x="58.7" y="204.9" font-family="Liberation Serif, serif" font-size="4.95" fill="#333">Modularity I (31.30%)</text>
<text x="58.7" y="214.1" font-family="Liberation Serif, serif" font-size="4.95" fill="#333">Modularity II (29.57%)</text>
<line x1="115.6" y1="203.4" x2="131.9" y2="203.4" stroke="#f0e8a0" stroke-width="0.9"/>
<line x1="115.6" y1="212.3" x2="131.9" y2="212.3" stroke="#444" stroke-width="0.9"/>
<text x="133.6" y="204.9" font-family="Liberation Serif, serif" font-size="4.85" fill="#333">Negative correlations (1.26%)</text>
<text x="133.6" y="214" font-family="Liberation Serif, serif" font-size="4.85" fill="#333">Positive correlations (98.74%)</text>
<text x="1.5" y="8.8" font-family="Liberation Sans, sans-serif" font-weight="bold" font-size="8.7" fill="#111">(a)</text>
<rect x="258.00" y="40.80" width="17.44" height="17.10" fill="#fff" stroke="#e4e4e4" stroke-width="0.6"/>
<rect x="275.44" y="40.80" width="17.44" height="17.10" fill="#fff" stroke="#e4e4e4" stroke-width="0.6"/>
<rect x="292.88" y="40.80" width="17.44" height="17.10" fill="#fff" stroke="#e4e4e4" stroke-width="0.6"/>
<rect x="310.32" y="40.80" width="17.44" height="17.10" fill="#fff" stroke="#e4e4e4" stroke-width="0.6"/>
<rect x="327.76" y="40.80" width="17.44" height="17.10" fill="#fff" stroke="#e4e4e4" stroke-width="0.6"/>
<rect x="345.20" y="40.80" width="17.44" height="17.10" fill="#fff" stroke="#e4e4e4" stroke-width="0.6"/>
<rect x="362.64" y="40.80" width="17.44" height="17.10" fill="#fff" stroke="#e4e4e4" stroke-width="0.6"/>
<rect x="380.08" y="40.80" width="17.44" height="17.10" fill="#fff" stroke="#e4e4e4" stroke-width="0.6"/>
<rect x="397.52" y="40.80" width="17.44" height="17.10" fill="#fff" stroke="#e4e4e4" stroke-width="0.6"/>
<rect x="275.44" y="57.90" width="17.44" height="17.10" fill="#fff" stroke="#e4e4e4" stroke-width="0.6"/>
<rect x="292.88" y="57.90" width="17.44" height="17.10" fill="#fff" stroke="#e4e4e4" stroke-width="0.6"/>
<rect x="310.32" y="57.90" width="17.44" height="17.10" fill="#fff" stroke="#e4e4e4" stroke-width="0.6"/>
<rect x="327.76" y="57.90" width="17.44" height="17.10" fill="#fff" stroke="#e4e4e4" stroke-width="0.6"/>
<rect x="345.20" y="57.90" width="17.44" height="17.10" fill="#fff" stroke="#e4e4e4" stroke-width="0.6"/>
<rect x="362.64" y="57.90" width="17.44" height="17.10" fill="#fff" stroke="#e4e4e4" stroke-width="0.6"/>
<rect x="380.08" y="57.90" width="17.44" height="17.10" fill="#fff" stroke="#e4e4e4" stroke-width="0.6"/>
<rect x="397.52" y="57.90" width="17.44" height="17.10" fill="#fff" stroke="#e4e4e4" stroke-width="0.6"/>
<rect x="292.88" y="75.00" width="17.44" height="17.10" fill="#fff" stroke="#e4e4e4" stroke-width="0.6"/>
<rect x="310.32" y="75.00" width="17.44" height="17.10" fill="#fff" stroke="#e4e4e4" stroke-width="0.6"/>
<rect x="327.76" y="75.00" width="17.44" height="17.10" fill="#fff" stroke="#e4e4e4" stroke-width="0.6"/>
<rect x="345.20" y="75.00" width="17.44" height="17.10" fill="#fff" stroke="#e4e4e4" stroke-width="0.6"/>
<rect x="362.64" y="75.00" width="17.44" height="17.10" fill="#fff" stroke="#e4e4e4" stroke-width="0.6"/>
<rect x="380.08" y="75.00" width="17.44" height="17.10" fill="#fff" stroke="#e4e4e4" stroke-width="0.6"/>
<rect x="397.52" y="75.00" width="17.44" height="17.10" fill="#fff" stroke="#e4e4e4" stroke-width="0.6"/>
<rect x="310.32" y="92.10" width="17.44" height="17.10" fill="#fff" stroke="#e4e4e4" stroke-width="0.6"/>
<rect x="327.76" y="92.10" width="17.44" height="17.10" fill="#fff" stroke="#e4e4e4" stroke-width="0.6"/>
<rect x="345.20" y="92.10" width="17.44" height="17.10" fill="#fff" stroke="#e4e4e4" stroke-width="0.6"/>
<rect x="362.64" y="92.10" width="17.44" height="17.10" fill="#fff" stroke="#e4e4e4" stroke-width="0.6"/>
<rect x="380.08" y="92.10" width="17.44" height="17.10" fill="#fff" stroke="#e4e4e4" stroke-width="0.6"/>
<rect x="397.52" y="92.10" width="17.44" height="17.10" fill="#fff" stroke="#e4e4e4" stroke-width="0.6"/>
<rect x="327.76" y="109.20" width="17.44" height="17.10" fill="#fff" stroke="#e4e4e4" stroke-width="0.6"/>
<rect x="345.20" y="109.20" width="17.44" height="17.10" fill="#fff" stroke="#e4e4e4" stroke-width="0.6"/>
<rect x="362.64" y="109.20" width="17.44" height="17.10" fill="#fff" stroke="#e4e4e4" stroke-width="0.6"/>
<rect x="380.08" y="109.20" width="17.44" height="17.10" fill="#fff" stroke="#e4e4e4" stroke-width="0.6"/>
<rect x="397.52" y="109.20" width="17.44" height="17.10" fill="#fff" stroke="#e4e4e4" stroke-width="0.6"/>
<rect x="345.20" y="126.30" width="17.44" height="17.10" fill="#fff" stroke="#e4e4e4" stroke-width="0.6"/>
<rect x="362.64" y="126.30" width="17.44" height="17.10" fill="#fff" stroke="#e4e4e4" stroke-width="0.6"/>
<rect x="380.08" y="126.30" width="17.44" height="17.10" fill="#fff" stroke="#e4e4e4" stroke-width="0.6"/>
<rect x="397.52" y="126.30" width="17.44" height="17.10" fill="#fff" stroke="#e4e4e4" stroke-width="0.6"/>
<rect x="362.64" y="143.40" width="17.44" height="17.10" fill="#fff" stroke="#e4e4e4" stroke-width="0.6"/>
<rect x="380.08" y="143.40" width="17.44" height="17.10" fill="#fff" stroke="#e4e4e4" stroke-width="0.6"/>
<rect x="397.52" y="143.40" width="17.44" height="17.10" fill="#fff" stroke="#e4e4e4" stroke-width="0.6"/>
<rect x="380.08" y="160.50" width="17.44" height="17.10" fill="#fff" stroke="#e4e4e4" stroke-width="0.6"/>
<rect x="397.52" y="160.50" width="17.44" height="17.10" fill="#fff" stroke="#e4e4e4" stroke-width="0.6"/>
<rect x="397.52" y="177.60" width="17.44" height="17.10" fill="#fff" stroke="#e4e4e4" stroke-width="0.6"/>
<rect x="258.30" y="41.10" width="16.84" height="16.50" fill="#f25f5f"/>
<text x="266.92" y="50.75" font-family="Liberation Sans, sans-serif" font-size="9.4" text-anchor="middle" fill="#2a0a0a" letter-spacing="0.15">•••</text>
<rect x="280.32" y="45.59" width="7.67" height="7.52" fill="#fde2e6" stroke="#999" stroke-width="0.4"/>
<rect x="297.76" y="45.59" width="7.67" height="7.52" fill="#fde2e6" stroke="#999" stroke-width="0.4"/>
<rect x="315.20" y="45.59" width="7.67" height="7.52" fill="#fde2e6" stroke="#999" stroke-width="0.4"/>
<rect x="329.59" y="42.60" width="13.78" height="13.51" fill="#f6acac" stroke="#999" stroke-width="0.4"/>
<text x="336.68" y="50.75" font-family="Liberation Sans, sans-serif" font-size="9.4" text-anchor="middle" fill="#2a0a0a" letter-spacing="0.15">•••</text>
<rect x="345.50" y="41.10" width="16.84" height="16.50" fill="#f26666"/>
<text x="354.12" y="50.75" font-family="Liberation Sans, sans-serif" font-size="9.4" text-anchor="middle" fill="#2a0a0a" letter-spacing="0.15">•••</text>
<rect x="362.94" y="41.10" width="16.84" height="16.50" fill="#f26262"/>
<text x="371.56" y="50.75" font-family="Liberation Sans, sans-serif" font-size="9.4" text-anchor="middle" fill="#2a0a0a" letter-spacing="0.15">•••</text>
<rect x="382.87" y="43.54" width="11.86" height="11.63" fill="#f8b8b8" stroke="#999" stroke-width="0.4"/>
<text x="389.00" y="50.75" font-family="Liberation Sans, sans-serif" font-size="9.4" text-anchor="middle" fill="#2a0a0a" letter-spacing="0.15">•••</text>
<rect x="397.82" y="41.10" width="16.84" height="16.50" fill="#f26262"/>
<text x="406.44" y="50.75" font-family="Liberation Sans, sans-serif" font-size="9.4" text-anchor="middle" fill="#2a0a0a" letter-spacing="0.15">•••</text>
<rect x="275.74" y="58.20" width="16.84" height="16.50" fill="#f25f5f"/>
<text x="284.36" y="67.85" font-family="Liberation Sans, sans-serif" font-size="9.4" text-anchor="middle" fill="#2a0a0a" letter-spacing="0.15">•••</text>
<rect x="293.18" y="58.20" width="16.84" height="16.50" fill="#f27a7a"/>
<text x="301.80" y="67.85" font-family="Liberation Sans, sans-serif" font-size="9.4" text-anchor="middle" fill="#2a0a0a" letter-spacing="0.15">•••</text>
<rect x="312.76" y="60.29" width="12.56" height="12.31" fill="#f6b0b0" stroke="#999" stroke-width="0.4"/>
<text x="319.24" y="67.85" font-family="Liberation Sans, sans-serif" font-size="9.4" text-anchor="middle" fill="#2a0a0a" letter-spacing="0.15">•••</text>
<rect x="331.16" y="61.23" width="10.64" height="10.43" fill="#f9c4c4" stroke="#999" stroke-width="0.4"/>
<text x="336.68" y="67.85" font-family="Liberation Sans, sans-serif" font-size="9.4" text-anchor="middle" fill="#2a0a0a" letter-spacing="0.15">••</text>
<rect x="347.12" y="59.78" width="13.60" height="13.34" fill="#f6a6a6" stroke="#999" stroke-width="0.4"/>
<text x="354.12" y="67.85" font-family="Liberation Sans, sans-serif" font-size="9.4" text-anchor="middle" fill="#2a0a0a" letter-spacing="0.15">•••</text>
<rect x="365.26" y="60.46" width="12.21" height="11.97" fill="#f7b0b0" stroke="#999" stroke-width="0.4"/>
<text x="371.56" y="67.85" font-family="Liberation Sans, sans-serif" font-size="9.4" text-anchor="middle" fill="#2a0a0a" letter-spacing="0.15">•••</text>
<rect x="383.13" y="60.89" width="11.34" height="11.12" fill="#f8b8b8" stroke="#999" stroke-width="0.4"/>
<text x="389.00" y="67.85" font-family="Liberation Sans, sans-serif" font-size="9.4" text-anchor="middle" fill="#2a0a0a" letter-spacing="0.15">••</text>
<rect x="400.66" y="60.98" width="11.16" height="10.94" fill="#f9c2c2" stroke="#999" stroke-width="0.4"/>
<text x="406.44" y="67.85" font-family="Liberation Sans, sans-serif" font-size="9.4" text-anchor="middle" fill="#2a0a0a" letter-spacing="0.15">••</text>
<rect x="293.18" y="75.30" width="16.84" height="16.50" fill="#f25f5f"/>
<text x="301.80" y="84.95" font-family="Liberation Sans, sans-serif" font-size="9.4" text-anchor="middle" fill="#2a0a0a" letter-spacing="0.15">•••</text>
<rect x="312.50" y="77.14" width="13.08" height="12.83" fill="#f6a8a8" stroke="#999" stroke-width="0.4"/>
<text x="319.24" y="84.95" font-family="Liberation Sans, sans-serif" font-size="9.4" text-anchor="middle" fill="#2a0a0a" letter-spacing="0.15">•••</text>
<rect x="332.03" y="79.19" width="8.89" height="8.72" fill="#fcdcdc" stroke="#999" stroke-width="0.4"/>
<rect x="347.12" y="76.88" width="13.60" height="13.34" fill="#f6a6a6" stroke="#999" stroke-width="0.4"/>
<text x="354.12" y="84.95" font-family="Liberation Sans, sans-serif" font-size="9.4" text-anchor="middle" fill="#2a0a0a" letter-spacing="0.15">•••</text>
<rect x="365.26" y="77.56" width="12.21" height="11.97" fill="#f8b6b6" stroke="#999" stroke-width="0.4"/>
<text x="371.56" y="84.95" font-family="Liberation Sans, sans-serif" font-size="9.4" text-anchor="middle" fill="#2a0a0a" letter-spacing="0.15">••</text>
<rect x="382.35" y="77.22" width="12.91" height="12.65" fill="#f6aaaa" stroke="#999" stroke-width="0.4"/>
<text x="389.00" y="84.95" font-family="Liberation Sans, sans-serif" font-size="9.4" text-anchor="middle" fill="#2a0a0a" letter-spacing="0.15">•••</text>
<rect x="401.27" y="78.68" width="9.94" height="9.75" fill="#fbd4d4" stroke="#999" stroke-width="0.4"/>
<text x="406.44" y="84.95" font-family="Liberation Sans, sans-serif" font-size="9.4" text-anchor="middle" fill="#2a0a0a" letter-spacing="0.15">•</text>
<rect x="310.62" y="92.40" width="16.84" height="16.50" fill="#f25f5f"/>
<text x="319.24" y="102.05" font-family="Liberation Sans, sans-serif" font-size="9.4" text-anchor="middle" fill="#2a0a0a" letter-spacing="0.15">•••</text>
<rect x="329.85" y="94.15" width="13.25" height="13.00" fill="#f6aaaa" stroke="#999" stroke-width="0.4"/>
<text x="336.68" y="102.05" font-family="Liberation Sans, sans-serif" font-size="9.4" text-anchor="middle" fill="#2a0a0a" letter-spacing="0.15">•••</text>
<rect x="347.47" y="94.32" width="12.91" height="12.65" fill="#f6aeae" stroke="#999" stroke-width="0.4"/>
<text x="354.12" y="102.05" font-family="Liberation Sans, sans-serif" font-size="9.4" text-anchor="middle" fill="#2a0a0a" letter-spacing="0.15">•••</text>
<rect x="366.30" y="95.69" width="10.12" height="9.92" fill="#fad0d0" stroke="#999" stroke-width="0.4"/>
<text x="371.56" y="102.05" font-family="Liberation Sans, sans-serif" font-size="9.4" text-anchor="middle" fill="#2a0a0a" letter-spacing="0.15">•</text>
<rect x="380.95" y="92.95" width="15.70" height="15.39" fill="#f27070" stroke="#999" stroke-width="0.4"/>
<text x="389.00" y="102.05" font-family="Liberation Sans, sans-serif" font-size="9.4" text-anchor="middle" fill="#2a0a0a" letter-spacing="0.15">•••</text>
<rect x="404.67" y="99.11" width="3.14" height="3.08" fill="#ffffff" stroke="#999" stroke-width="0.4"/>
<rect x="328.06" y="109.50" width="16.84" height="16.50" fill="#f25f5f"/>
<text x="336.68" y="119.15" font-family="Liberation Sans, sans-serif" font-size="9.4" text-anchor="middle" fill="#2a0a0a" letter-spacing="0.15">•••</text>
<rect x="346.77" y="110.74" width="14.30" height="14.02" fill="#f6a4a4" stroke="#999" stroke-width="0.4"/>
<text x="354.12" y="119.15" font-family="Liberation Sans, sans-serif" font-size="9.4" text-anchor="middle" fill="#2a0a0a" letter-spacing="0.15">•••</text>
<rect x="364.21" y="110.74" width="14.30" height="14.02" fill="#f6a8a8" stroke="#999" stroke-width="0.4"/>
<text x="371.56" y="119.15" font-family="Liberation Sans, sans-serif" font-size="9.4" text-anchor="middle" fill="#2a0a0a" letter-spacing="0.15">•••</text>
<rect x="380.95" y="110.06" width="15.70" height="15.39" fill="#f37676" stroke="#999" stroke-width="0.4"/>
<text x="389.00" y="119.15" font-family="Liberation Sans, sans-serif" font-size="9.4" text-anchor="middle" fill="#2a0a0a" letter-spacing="0.15">•••</text>
<rect x="401.44" y="113.05" width="9.59" height="9.41" fill="#fad0d0" stroke="#999" stroke-width="0.4"/>
<text x="406.44" y="119.15" font-family="Liberation Sans, sans-serif" font-size="9.4" text-anchor="middle" fill="#2a0a0a" letter-spacing="0.15">••</text>
<rect x="345.50" y="126.60" width="16.84" height="16.50" fill="#f25f5f"/>
<text x="354.12" y="136.25" font-family="Liberation Sans, sans-serif" font-size="9.4" text-anchor="middle" fill="#2a0a0a" letter-spacing="0.15">•••</text>
<rect x="362.94" y="126.60" width="16.84" height="16.50" fill="#f26868"/>
<text x="371.56" y="136.25" font-family="Liberation Sans, sans-serif" font-size="9.4" text-anchor="middle" fill="#2a0a0a" letter-spacing="0.15">•••</text>
<rect x="381.82" y="128.01" width="13.95" height="13.68" fill="#f6a0a0" stroke="#999" stroke-width="0.4"/>
<text x="389.00" y="136.25" font-family="Liberation Sans, sans-serif" font-size="9.4" text-anchor="middle" fill="#2a0a0a" letter-spacing="0.15">•••</text>
<rect x="397.82" y="126.60" width="16.84" height="16.50" fill="#f26868"/>
<text x="406.44" y="136.25" font-family="Liberation Sans, sans-serif" font-size="9.4" text-anchor="middle" fill="#2a0a0a" letter-spacing="0.15">•••</text>
<rect x="362.94" y="143.70" width="16.84" height="16.50" fill="#f25f5f"/>
<text x="371.56" y="153.35" font-family="Liberation Sans, sans-serif" font-size="9.4" text-anchor="middle" fill="#2a0a0a" letter-spacing="0.15">•••</text>
<rect x="382.00" y="145.28" width="13.60" height="13.34" fill="#f7a6a6" stroke="#999" stroke-width="0.4"/>
<text x="389.00" y="153.35" font-family="Liberation Sans, sans-serif" font-size="9.4" text-anchor="middle" fill="#2a0a0a" letter-spacing="0.15">•••</text>
<rect x="397.82" y="143.70" width="16.84" height="16.50" fill="#f26464"/>
<text x="406.44" y="153.35" font-family="Liberation Sans, sans-serif" font-size="9.4" text-anchor="middle" fill="#2a0a0a" letter-spacing="0.15">•••</text>
<rect x="380.38" y="160.80" width="16.84" height="16.50" fill="#f25f5f"/>
<text x="389.00" y="170.45" font-family="Liberation Sans, sans-serif" font-size="9.4" text-anchor="middle" fill="#2a0a0a" letter-spacing="0.15">•••</text>
<rect x="402.32" y="165.20" width="7.85" height="7.70" fill="#fde0e4" stroke="#999" stroke-width="0.4"/>
<rect x="397.82" y="177.90" width="16.84" height="16.50" fill="#f25f5f"/>
<text x="406.44" y="187.55" font-family="Liberation Sans, sans-serif" font-size="9.4" text-anchor="middle" fill="#2a0a0a" letter-spacing="0.15">•••</text>
<text x="416.6" y="51.9" font-family="Liberation Sans, sans-serif" font-size="6.3" fill="#111" stroke="#111" stroke-width="0.12" letter-spacing="-0.15">As<tspan font-size="3.8" dy="1.2">PO4</tspan></text>
<text transform="translate(266.4,40.3) rotate(-38)" font-family="Liberation Sans, sans-serif" font-size="6.2" fill="#111" stroke="#111" stroke-width="0.12">As<tspan font-size="3.8" dy="1">PO4</tspan></text>
<text x="416.6" y="69.0" font-family="Liberation Sans, sans-serif" font-size="6.3" fill="#111" stroke="#111" stroke-width="0.12" letter-spacing="-0.15">As<tspan font-size="3.8" dy="1.2">HCl</tspan></text>
<text transform="translate(283.9,40.3) rotate(-38)" font-family="Liberation Sans, sans-serif" font-size="6.2" fill="#111" stroke="#111" stroke-width="0.12">As<tspan font-size="3.8" dy="1">HCl</tspan></text>
<text x="416.6" y="86.1" font-family="Liberation Sans, sans-serif" font-size="6.3" fill="#111" stroke="#111" stroke-width="0.12" letter-spacing="-0.15">As<tspan font-size="3.8" dy="1.2">Bw</tspan></text>
<text transform="translate(301.3,40.3) rotate(-38)" font-family="Liberation Sans, sans-serif" font-size="6.2" fill="#111" stroke="#111" stroke-width="0.12">As<tspan font-size="3.8" dy="1">Bw</tspan></text>
<text x="416.6" y="103.2" font-family="Liberation Sans, sans-serif" font-size="6.3" fill="#111" stroke="#111" stroke-width="0.12" letter-spacing="-0.15">As<tspan font-size="3.8" dy="1.2">Ox</tspan></text>
<text transform="translate(318.7,40.3) rotate(-38)" font-family="Liberation Sans, sans-serif" font-size="6.2" fill="#111" stroke="#111" stroke-width="0.12">As<tspan font-size="3.8" dy="1">Ox</tspan></text>
<text x="416.6" y="120.3" font-family="Liberation Sans, sans-serif" font-size="6.3" fill="#111" stroke="#111" stroke-width="0.12" letter-spacing="-0.15">As<tspan font-size="3.8" dy="1.2">s</tspan></text>
<text transform="translate(336.2,40.3) rotate(-38)" font-family="Liberation Sans, sans-serif" font-size="6.2" fill="#111" stroke="#111" stroke-width="0.12">As<tspan font-size="3.8" dy="1">s</tspan></text>
<text x="416.6" y="137.4" font-family="Liberation Sans, sans-serif" font-size="6.2" fill="#111" stroke="#111" stroke-width="0.12" letter-spacing="-0.2">T_As</text>
<text transform="translate(353.6,40.3) rotate(-38)" font-family="Liberation Sans, sans-serif" font-size="6.1" fill="#111" stroke="#111" stroke-width="0.12" letter-spacing="-0.1">T_As</text>
<text x="416.6" y="154.6" font-family="Liberation Sans, sans-serif" font-size="6.2" fill="#111" stroke="#111" stroke-width="0.12" letter-spacing="-0.2">B_As</text>
<text transform="translate(371.1,40.3) rotate(-38)" font-family="Liberation Sans, sans-serif" font-size="6.1" fill="#111" stroke="#111" stroke-width="0.12" letter-spacing="-0.1">B_As</text>
<text x="416.6" y="171.7" font-family="Liberation Sans, sans-serif" font-size="6.2" fill="#111" stroke="#111" stroke-width="0.12" letter-spacing="-0.2">B_As(III)</text>
<text transform="translate(388.5,40.3) rotate(-38)" font-family="Liberation Sans, sans-serif" font-size="6.1" fill="#111" stroke="#111" stroke-width="0.12" letter-spacing="-0.1">B_As(III)</text>
<text x="416.6" y="188.8" font-family="Liberation Sans, sans-serif" font-size="6.2" fill="#111" stroke="#111" stroke-width="0.12" letter-spacing="-0.2">B_As( V )</text>
<text transform="translate(405.9,40.3) rotate(-38)" font-family="Liberation Sans, sans-serif" font-size="6.1" fill="#111" stroke="#111" stroke-width="0.12" letter-spacing="-0.1">B_As(V)</text>
<path d="M286.2,148.4 Q283.4,92.9 249.0,49.3" fill="none" stroke="#e9a030" stroke-width="1.6"/>
<path d="M286.2,148.4 Q289.4,104.3 266.4,66.5" fill="none" stroke="#c4c4c4" stroke-width="0.8" stroke-dasharray="2.2,1.6"/>
<path d="M286.2,148.4 Q295.4,115.6 283.9,83.5" fill="none" stroke="#c25fe0" stroke-width="1.15"/>
<path d="M286.2,148.4 Q301.4,126.9 301.3,100.6" fill="none" stroke="#c4c4c4" stroke-width="0.8" stroke-dasharray="2.2,1.6"/>
<path d="M286.2,148.4 Q307.4,138.3 318.8,117.8" fill="none" stroke="#c25fe0" stroke-width="1.15"/>
<path d="M286.2,148.4 Q313.4,149.6 336.2,134.8" fill="none" stroke="#e9a030" stroke-width="1.6"/>
<path d="M286.2,148.4 Q319.4,161.0 353.6,152.0" fill="none" stroke="#e9a030" stroke-width="1.6"/>
<path d="M286.2,148.4 Q325.3,172.3 371.1,169.1" fill="none" stroke="#c25fe0" stroke-width="1.15"/>
<path d="M286.2,148.4 Q331.3,183.6 388.5,186.2" fill="none" stroke="#e9a030" stroke-width="1.6"/>
<circle cx="249.0" cy="49.3" r="1.5" fill="#7a1a4a"/>
<circle cx="266.4" cy="66.5" r="1.5" fill="#7a1a4a"/>
<circle cx="283.9" cy="83.5" r="1.5" fill="#7a1a4a"/>
<circle cx="301.3" cy="100.6" r="1.5" fill="#7a1a4a"/>
<circle cx="318.8" cy="117.8" r="1.5" fill="#7a1a4a"/>
<circle cx="336.2" cy="134.8" r="1.5" fill="#7a1a4a"/>
<circle cx="353.6" cy="152.0" r="1.5" fill="#7a1a4a"/>
<circle cx="371.1" cy="169.1" r="1.5" fill="#7a1a4a"/>
<circle cx="388.5" cy="186.2" r="1.5" fill="#7a1a4a"/>
<circle cx="286.2" cy="148.4" r="1.5" fill="#7a1a4a"/>
<text x="253.8" y="149.6" font-family="Liberation Sans, sans-serif" font-size="5.7" fill="#000" stroke="#000" stroke-width="0.15">Bacterial</text>
<text x="253.8" y="155.7" font-family="Liberation Sans, sans-serif" font-size="5.7" fill="#000" stroke="#000" stroke-width="0.15">community</text>
<defs><linearGradient id="gp" x1="0" y1="0" x2="0" y2="1"><stop offset="0" stop-color="#f26464"/><stop offset="1" stop-color="#ffffff"/></linearGradient><linearGradient id="gc" x1="0" y1="0" x2="0" y2="1"><stop offset="0" stop-color="#ee1c1c"/><stop offset="0.5" stop-color="#ffffff"/><stop offset="1" stop-color="#1414ee"/></linearGradient></defs>
<text x="442" y="57.3" font-family="Liberation Sans, sans-serif" font-size="5.8" fill="#111" stroke="#111" stroke-width="0.12">Pearson's r</text>
<rect x="442" y="60.4" width="9.2" height="44.6" fill="url(#gp)"/>
<text x="453.5" y="63.4" font-family="Liberation Sans, sans-serif" font-size="4.7" fill="#222" stroke="#222" stroke-width="0.1">1.00</text>
<text x="453.5" y="73.8" font-family="Liberation Sans, sans-serif" font-size="4.7" fill="#222" stroke="#222" stroke-width="0.1">0.75</text>
<text x="453.5" y="84.4" font-family="Liberation Sans, sans-serif" font-size="4.7" fill="#222" stroke="#222" stroke-width="0.1">0.50</text>
<text x="453.5" y="95.2" font-family="Liberation Sans, sans-serif" font-size="4.7" fill="#222" stroke="#222" stroke-width="0.1">0.25</text>
<text x="442" y="119.2" font-family="Liberation Sans, sans-serif" font-size="5.6" fill="#111" stroke="#111" stroke-width="0.12">Mantel's r</text>
<line x1="443.4" y1="126.7" x2="449.7" y2="126.7" stroke="#555" stroke-width="0.6"/>
<line x1="443.4" y1="134.3" x2="449.7" y2="134.3" stroke="#555" stroke-width="1.3"/>
<text x="453.5" y="128.4" font-family="Liberation Sans, sans-serif" font-size="4.7" fill="#222" stroke="#222" stroke-width="0.1">&lt; 0.25</text>
<text x="453.5" y="136" font-family="Liberation Sans, sans-serif" font-size="4.7" fill="#222" stroke="#222" stroke-width="0.1">0.25 - 0.5</text>
<text x="442" y="154.7" font-family="Liberation Sans, sans-serif" font-size="5.6" fill="#111" stroke="#111" stroke-width="0.12">p−value</text>
<line x1="443.4" y1="162.2" x2="449.7" y2="162.2" stroke="#edc060" stroke-width="0.75"/>
<line x1="443.4" y1="171.1" x2="449.7" y2="171.1" stroke="#d898ec" stroke-width="0.75"/>
<line x1="443.4" y1="179.8" x2="449.7" y2="179.8" stroke="#dddddd" stroke-width="0.75"/>
<text x="453.5" y="163.9" font-family="Liberation Sans, sans-serif" font-size="4.7" fill="#222" stroke="#222" stroke-width="0.1">&lt; 0.01</text>
<text x="453.5" y="172.8" font-family="Liberation Sans, sans-serif" font-size="4.7" fill="#222" stroke="#222" stroke-width="0.1">0.01 - 0.05</text>
<text x="453.5" y="181.5" font-family="Liberation Sans, sans-serif" font-size="4.7" fill="#222" stroke="#222" stroke-width="0.1">&gt;= 0.05</text>
<text x="245.3" y="9.1" font-family="Liberation Sans, sans-serif" font-weight="bold" font-size="8.6" fill="#111">(b)</text>
<rect x="20.00" y="280.30" width="20.90" height="17.00" fill="#f46a6a" stroke="#d8d8e0" stroke-opacity="0.6" stroke-width="0.4"/>
<text x="30.70" y="291.20" font-family="Liberation Sans, sans-serif" font-size="8.6" font-weight="bold" text-anchor="middle" fill="#fff" fill-opacity="0.92" letter-spacing="0.5">**</text>
<rect x="40.90" y="280.30" width="20.90" height="17.00" fill="#f47878" stroke="#d8d8e0" stroke-opacity="0.6" stroke-width="0.4"/>
<text x="51.60" y="291.20" font-family="Liberation Sans, sans-serif" font-size="8.6" font-weight="bold" text-anchor="middle" fill="#fff" fill-opacity="0.92" letter-spacing="0.5">**</text>
<rect x="61.80" y="280.30" width="20.90" height="17.00" fill="#f47070" stroke="#d8d8e0" stroke-opacity="0.6" stroke-width="0.4"/>
<text x="72.50" y="291.20" font-family="Liberation Sans, sans-serif" font-size="8.6" font-weight="bold" text-anchor="middle" fill="#fff" fill-opacity="0.92" letter-spacing="0.5">**</text>
<rect x="82.70" y="280.30" width="20.90" height="17.00" fill="#f47a7a" stroke="#d8d8e0" stroke-opacity="0.6" stroke-width="0.4"/>
<text x="93.40" y="291.20" font-family="Liberation Sans, sans-serif" font-size="8.6" font-weight="bold" text-anchor="middle" fill="#fff" fill-opacity="0.92" letter-spacing="0.5">**</text>
<rect x="103.60" y="280.30" width="20.90" height="17.00" fill="#f47272" stroke="#d8d8e0" stroke-opacity="0.6" stroke-width="0.4"/>
<text x="114.30" y="291.20" font-family="Liberation Sans, sans-serif" font-size="8.6" font-weight="bold" text-anchor="middle" fill="#fff" fill-opacity="0.92" letter-spacing="0.5">**</text>
<rect x="124.50" y="280.30" width="20.90" height="17.00" fill="#f04848" stroke="#d8d8e0" stroke-opacity="0.6" stroke-width="0.4"/>
<text x="135.20" y="291.20" font-family="Liberation Sans, sans-serif" font-size="8.6" font-weight="bold" text-anchor="middle" fill="#fff" fill-opacity="0.92" letter-spacing="0.5">**</text>
<rect x="145.40" y="280.30" width="20.90" height="17.00" fill="#f47878" stroke="#d8d8e0" stroke-opacity="0.6" stroke-width="0.4"/>
<text x="156.10" y="291.20" font-family="Liberation Sans, sans-serif" font-size="8.6" font-weight="bold" text-anchor="middle" fill="#fff" fill-opacity="0.92" letter-spacing="0.5">**</text>
<rect x="166.30" y="280.30" width="20.90" height="17.00" fill="#f47070" stroke="#d8d8e0" stroke-opacity="0.6" stroke-width="0.4"/>
<text x="177.00" y="291.20" font-family="Liberation Sans, sans-serif" font-size="8.6" font-weight="bold" text-anchor="middle" fill="#fff" fill-opacity="0.92" letter-spacing="0.5">**</text>
<rect x="187.20" y="280.30" width="20.90" height="17.00" fill="#f04444" stroke="#d8d8e0" stroke-opacity="0.6" stroke-width="0.4"/>
<text x="197.90" y="291.20" font-family="Liberation Sans, sans-serif" font-size="8.6" font-weight="bold" text-anchor="middle" fill="#fff" fill-opacity="0.92" letter-spacing="0.5">**</text>
<rect x="20.00" y="297.30" width="20.90" height="17.00" fill="#f79898" stroke="#d8d8e0" stroke-opacity="0.6" stroke-width="0.4"/>
<text x="30.70" y="308.20" font-family="Liberation Sans, sans-serif" font-size="8.6" font-weight="bold" text-anchor="middle" fill="#fff" fill-opacity="0.92" letter-spacing="0.5">*</text>
<rect x="40.90" y="297.30" width="20.90" height="17.00" fill="#fbc8c8" stroke="#d8d8e0" stroke-opacity="0.6" stroke-width="0.4"/>
<rect x="61.80" y="297.30" width="20.90" height="17.00" fill="#f9a0a0" stroke="#d8d8e0" stroke-opacity="0.6" stroke-width="0.4"/>
<text x="72.50" y="308.20" font-family="Liberation Sans, sans-serif" font-size="8.6" font-weight="bold" text-anchor="middle" fill="#fff" fill-opacity="0.92" letter-spacing="0.5">*</text>
<rect x="82.70" y="297.30" width="20.90" height="17.00" fill="#f9a8a8" stroke="#d8d8e0" stroke-opacity="0.6" stroke-width="0.4"/>
<text x="93.40" y="308.20" font-family="Liberation Sans, sans-serif" font-size="8.6" font-weight="bold" text-anchor="middle" fill="#fff" fill-opacity="0.92" letter-spacing="0.5">*</text>
<rect x="103.60" y="297.30" width="20.90" height="17.00" fill="#f9a0a0" stroke="#d8d8e0" stroke-opacity="0.6" stroke-width="0.4"/>
<text x="114.30" y="308.20" font-family="Liberation Sans, sans-serif" font-size="8.6" font-weight="bold" text-anchor="middle" fill="#fff" fill-opacity="0.92" letter-spacing="0.5">*</text>
<rect x="124.50" y="297.30" width="20.90" height="17.00" fill="#f79090" stroke="#d8d8e0" stroke-opacity="0.6" stroke-width="0.4"/>
<text x="135.20" y="308.20" font-family="Liberation Sans, sans-serif" font-size="8.6" font-weight="bold" text-anchor="middle" fill="#fff" fill-opacity="0.92" letter-spacing="0.5">*</text>
<rect x="145.40" y="297.30" width="20.90" height="17.00" fill="#f9a0a0" stroke="#d8d8e0" stroke-opacity="0.6" stroke-width="0.4"/>
<text x="156.10" y="308.20" font-family="Liberation Sans, sans-serif" font-size="8.6" font-weight="bold" text-anchor="middle" fill="#fff" fill-opacity="0.92" letter-spacing="0.5">*</text>
<rect x="166.30" y="297.30" width="20.90" height="17.00" fill="#fab0b0" stroke="#d8d8e0" stroke-opacity="0.6" stroke-width="0.4"/>
<text x="177.00" y="308.20" font-family="Liberation Sans, sans-serif" font-size="8.6" font-weight="bold" text-anchor="middle" fill="#fff" fill-opacity="0.92" letter-spacing="0.5">*</text>
<rect x="187.20" y="297.30" width="20.90" height="17.00" fill="#f78a8a" stroke="#d8d8e0" stroke-opacity="0.6" stroke-width="0.4"/>
<text x="197.90" y="308.20" font-family="Liberation Sans, sans-serif" font-size="8.6" font-weight="bold" text-anchor="middle" fill="#fff" fill-opacity="0.92" letter-spacing="0.5">**</text>
<rect x="20.00" y="314.30" width="20.90" height="17.00" fill="#ee2020" stroke="#d8d8e0" stroke-opacity="0.6" stroke-width="0.4"/>
<text x="30.70" y="325.20" font-family="Liberation Sans, sans-serif" font-size="8.6" font-weight="bold" text-anchor="middle" fill="#fff" fill-opacity="0.92" letter-spacing="0.5">**</text>
<rect x="40.90" y="314.30" width="20.90" height="17.00" fill="#f79292" stroke="#d8d8e0" stroke-opacity="0.6" stroke-width="0.4"/>
<text x="51.60" y="325.20" font-family="Liberation Sans, sans-serif" font-size="8.6" font-weight="bold" text-anchor="middle" fill="#fff" fill-opacity="0.92" letter-spacing="0.5">*</text>
<rect x="61.80" y="314.30" width="20.90" height="17.00" fill="#ee2828" stroke="#d8d8e0" stroke-opacity="0.6" stroke-width="0.4"/>
<text x="72.50" y="325.20" font-family="Liberation Sans, sans-serif" font-size="8.6" font-weight="bold" text-anchor="middle" fill="#fff" fill-opacity="0.92" letter-spacing="0.5">**</text>
<rect x="82.70" y="314.30" width="20.90" height="17.00" fill="#ee0808" stroke="#d8d8e0" stroke-opacity="0.6" stroke-width="0.4"/>
<text x="93.40" y="325.20" font-family="Liberation Sans, sans-serif" font-size="8.6" font-weight="bold" text-anchor="middle" fill="#fff" fill-opacity="0.92" letter-spacing="0.5">**</text>
<rect x="103.60" y="314.30" width="20.90" height="17.00" fill="#dedef8" stroke="#d8d8e0" stroke-opacity="0.6" stroke-width="0.4"/>
<rect x="124.50" y="314.30" width="20.90" height="17.00" fill="#b0b0f0" stroke="#d8d8e0" stroke-opacity="0.6" stroke-width="0.4"/>
<rect x="145.40" y="314.30" width="20.90" height="17.00" fill="#e8e8fb" stroke="#d8d8e0" stroke-opacity="0.6" stroke-width="0.4"/>
<rect x="166.30" y="314.30" width="20.90" height="17.00" fill="#f45a5a" stroke="#d8d8e0" stroke-opacity="0.6" stroke-width="0.4"/>
<text x="177.00" y="325.20" font-family="Liberation Sans, sans-serif" font-size="8.6" font-weight="bold" text-anchor="middle" fill="#fff" fill-opacity="0.92" letter-spacing="0.5">**</text>
<rect x="187.20" y="314.30" width="20.90" height="17.00" fill="#f02c2c" stroke="#d8d8e0" stroke-opacity="0.6" stroke-width="0.4"/>
<text x="197.90" y="325.20" font-family="Liberation Sans, sans-serif" font-size="8.6" font-weight="bold" text-anchor="middle" fill="#fff" fill-opacity="0.92" letter-spacing="0.5">**</text>
<rect x="20.00" y="331.30" width="20.90" height="17.00" fill="#e8e8fb" stroke="#d8d8e0" stroke-opacity="0.6" stroke-width="0.4"/>
<rect x="40.90" y="331.30" width="20.90" height="17.00" fill="#f9a8a8" stroke="#d8d8e0" stroke-opacity="0.6" stroke-width="0.4"/>
<text x="51.60" y="342.20" font-family="Liberation Sans, sans-serif" font-size="8.6" font-weight="bold" text-anchor="middle" fill="#fff" fill-opacity="0.92" letter-spacing="0.5">*</text>
<rect x="61.80" y="331.30" width="20.90" height="17.00" fill="#bfbff5" stroke="#d8d8e0" stroke-opacity="0.6" stroke-width="0.4"/>
<rect x="82.70" y="331.30" width="20.90" height="17.00" fill="#dcdcf8" stroke="#d8d8e0" stroke-opacity="0.6" stroke-width="0.4"/>
<rect x="103.60" y="331.30" width="20.90" height="17.00" fill="#f4f4fd" stroke="#d8d8e0" stroke-opacity="0.6" stroke-width="0.4"/>
<rect x="124.50" y="331.30" width="20.90" height="17.00" fill="#f79090" stroke="#d8d8e0" stroke-opacity="0.6" stroke-width="0.4"/>
<text x="135.20" y="342.20" font-family="Liberation Sans, sans-serif" font-size="8.6" font-weight="bold" text-anchor="middle" fill="#fff" fill-opacity="0.92" letter-spacing="0.5">*</text>
<rect x="145.40" y="331.30" width="20.90" height="17.00" fill="#f47878" stroke="#d8d8e0" stroke-opacity="0.6" stroke-width="0.4"/>
<text x="156.10" y="342.20" font-family="Liberation Sans, sans-serif" font-size="8.6" font-weight="bold" text-anchor="middle" fill="#fff" fill-opacity="0.92" letter-spacing="0.5">**</text>
<rect x="166.30" y="331.30" width="20.90" height="17.00" fill="#c8c8f4" stroke="#d8d8e0" stroke-opacity="0.6" stroke-width="0.4"/>
<rect x="187.20" y="331.30" width="20.90" height="17.00" fill="#fdfdfd" stroke="#d8d8e0" stroke-opacity="0.6" stroke-width="0.4"/>
<rect x="20.00" y="348.30" width="20.90" height="17.00" fill="#fefcfa" stroke="#d8d8e0" stroke-opacity="0.6" stroke-width="0.4"/>
<rect x="40.90" y="348.30" width="20.90" height="17.00" fill="#c0c0f4" stroke="#d8d8e0" stroke-opacity="0.6" stroke-width="0.4"/>
<rect x="61.80" y="348.30" width="20.90" height="17.00" fill="#fde4e0" stroke="#d8d8e0" stroke-opacity="0.6" stroke-width="0.4"/>
<rect x="82.70" y="348.30" width="20.90" height="17.00" fill="#fcd4d0" stroke="#d8d8e0" stroke-opacity="0.6" stroke-width="0.4"/>
<rect x="103.60" y="348.30" width="20.90" height="17.00" fill="#8484f2" stroke="#d8d8e0" stroke-opacity="0.6" stroke-width="0.4"/>
<rect x="124.50" y="348.30" width="20.90" height="17.00" fill="#7070f0" stroke="#d8d8e0" stroke-opacity="0.6" stroke-width="0.4"/>
<rect x="145.40" y="348.30" width="20.90" height="17.00" fill="#8080f2" stroke="#d8d8e0" stroke-opacity="0.6" stroke-width="0.4"/>
<rect x="166.30" y="348.30" width="20.90" height="17.00" fill="#dcdcf8" stroke="#d8d8e0" stroke-opacity="0.6" stroke-width="0.4"/>
<rect x="187.20" y="348.30" width="20.90" height="17.00" fill="#e8e8fb" stroke="#d8d8e0" stroke-opacity="0.6" stroke-width="0.4"/>
<rect x="20.00" y="365.30" width="20.90" height="17.00" fill="#2020ea" stroke="#d8d8e0" stroke-opacity="0.6" stroke-width="0.4"/>
<text x="30.70" y="376.20" font-family="Liberation Sans, sans-serif" font-size="8.6" font-weight="bold" text-anchor="middle" fill="#fff" fill-opacity="0.92" letter-spacing="0.5">**</text>
<rect x="40.90" y="365.30" width="20.90" height="17.00" fill="#6060ee" stroke="#d8d8e0" stroke-opacity="0.6" stroke-width="0.4"/>
<rect x="61.80" y="365.30" width="20.90" height="17.00" fill="#2222ea" stroke="#d8d8e0" stroke-opacity="0.6" stroke-width="0.4"/>
<text x="72.50" y="376.20" font-family="Liberation Sans, sans-serif" font-size="8.6" font-weight="bold" text-anchor="middle" fill="#fff" fill-opacity="0.92" letter-spacing="0.5">**</text>
<rect x="82.70" y="365.30" width="20.90" height="17.00" fill="#1c1cea" stroke="#d8d8e0" stroke-opacity="0.6" stroke-width="0.4"/>
<text x="93.40" y="376.20" font-family="Liberation Sans, sans-serif" font-size="8.6" font-weight="bold" text-anchor="middle" fill="#fff" fill-opacity="0.92" letter-spacing="0.5">**</text>
<rect x="103.60" y="365.30" width="20.90" height="17.00" fill="#7a7af2" stroke="#d8d8e0" stroke-opacity="0.6" stroke-width="0.4"/>
<rect x="124.50" y="365.30" width="20.90" height="17.00" fill="#3030ec" stroke="#d8d8e0" stroke-opacity="0.6" stroke-width="0.4"/>
<text x="135.20" y="376.20" font-family="Liberation Sans, sans-serif" font-size="8.6" font-weight="bold" text-anchor="middle" fill="#fff" fill-opacity="0.92" letter-spacing="0.5">*</text>
<rect x="145.40" y="365.30" width="20.90" height="17.00" fill="#a0a0f4" stroke="#d8d8e0" stroke-opacity="0.6" stroke-width="0.4"/>
<rect x="166.30" y="365.30" width="20.90" height="17.00" fill="#7070f0" stroke="#d8d8e0" stroke-opacity="0.6" stroke-width="0.4"/>
<rect x="187.20" y="365.30" width="20.90" height="17.00" fill="#2424ee" stroke="#d8d8e0" stroke-opacity="0.6" stroke-width="0.4"/>
<text x="197.90" y="376.20" font-family="Liberation Sans, sans-serif" font-size="8.6" font-weight="bold" text-anchor="middle" fill="#fff" fill-opacity="0.92" letter-spacing="0.5">**</text>
<rect x="20.00" y="382.30" width="20.90" height="17.00" fill="#2424ea" stroke="#d8d8e0" stroke-opacity="0.6" stroke-width="0.4"/>
<text x="30.70" y="393.20" font-family="Liberation Sans, sans-serif" font-size="8.6" font-weight="bold" text-anchor="middle" fill="#fff" fill-opacity="0.92" letter-spacing="0.5">**</text>
<rect x="40.90" y="382.30" width="20.90" height="17.00" fill="#6464ee" stroke="#d8d8e0" stroke-opacity="0.6" stroke-width="0.4"/>
<rect x="61.80" y="382.30" width="20.90" height="17.00" fill="#2828ea" stroke="#d8d8e0" stroke-opacity="0.6" stroke-width="0.4"/>
<text x="72.50" y="393.20" font-family="Liberation Sans, sans-serif" font-size="8.6" font-weight="bold" text-anchor="middle" fill="#fff" fill-opacity="0.92" letter-spacing="0.5">**</text>
<rect x="82.70" y="382.30" width="20.90" height="17.00" fill="#2020ea" stroke="#d8d8e0" stroke-opacity="0.6" stroke-width="0.4"/>
<text x="93.40" y="393.20" font-family="Liberation Sans, sans-serif" font-size="8.6" font-weight="bold" text-anchor="middle" fill="#fff" fill-opacity="0.92" letter-spacing="0.5">**</text>
<rect x="103.60" y="382.30" width="20.90" height="17.00" fill="#7878f2" stroke="#d8d8e0" stroke-opacity="0.6" stroke-width="0.4"/>
<rect x="124.50" y="382.30" width="20.90" height="17.00" fill="#3434ec" stroke="#d8d8e0" stroke-opacity="0.6" stroke-width="0.4"/>
<text x="135.20" y="393.20" font-family="Liberation Sans, sans-serif" font-size="8.6" font-weight="bold" text-anchor="middle" fill="#fff" fill-opacity="0.92" letter-spacing="0.5">*</text>
<rect x="145.40" y="382.30" width="20.90" height="17.00" fill="#a0a0f4" stroke="#d8d8e0" stroke-opacity="0.6" stroke-width="0.4"/>
<rect x="166.30" y="382.30" width="20.90" height="17.00" fill="#8080f2" stroke="#d8d8e0" stroke-opacity="0.6" stroke-width="0.4"/>
<rect x="187.20" y="382.30" width="20.90" height="17.00" fill="#2424ee" stroke="#d8d8e0" stroke-opacity="0.6" stroke-width="0.4"/>
<text x="197.90" y="393.20" font-family="Liberation Sans, sans-serif" font-size="8.6" font-weight="bold" text-anchor="middle" fill="#fff" fill-opacity="0.92" letter-spacing="0.5">**</text>
<rect x="20.00" y="399.30" width="20.90" height="17.00" fill="#2424ea" stroke="#d8d8e0" stroke-opacity="0.6" stroke-width="0.4"/>
<text x="30.70" y="410.20" font-family="Liberation Sans, sans-serif" font-size="8.6" font-weight="bold" text-anchor="middle" fill="#fff" fill-opacity="0.92" letter-spacing="0.5">**</text>
<rect x="40.90" y="399.30" width="20.90" height="17.00" fill="#4848ec" stroke="#d8d8e0" stroke-opacity="0.6" stroke-width="0.4"/>
<text x="51.60" y="410.20" font-family="Liberation Sans, sans-serif" font-size="8.6" font-weight="bold" text-anchor="middle" fill="#fff" fill-opacity="0.92" letter-spacing="0.5">*</text>
<rect x="61.80" y="399.30" width="20.90" height="17.00" fill="#2424ea" stroke="#d8d8e0" stroke-opacity="0.6" stroke-width="0.4"/>
<text x="72.50" y="410.20" font-family="Liberation Sans, sans-serif" font-size="8.6" font-weight="bold" text-anchor="middle" fill="#fff" fill-opacity="0.92" letter-spacing="0.5">**</text>
<rect x="82.70" y="399.30" width="20.90" height="17.00" fill="#1c1cea" stroke="#d8d8e0" stroke-opacity="0.6" stroke-width="0.4"/>
<text x="93.40" y="410.20" font-family="Liberation Sans, sans-serif" font-size="8.6" font-weight="bold" text-anchor="middle" fill="#fff" fill-opacity="0.92" letter-spacing="0.5">**</text>
<rect x="103.60" y="399.30" width="20.90" height="17.00" fill="#8080f2" stroke="#d8d8e0" stroke-opacity="0.6" stroke-width="0.4"/>
<rect x="124.50" y="399.30" width="20.90" height="17.00" fill="#4040ec" stroke="#d8d8e0" stroke-opacity="0.6" stroke-width="0.4"/>
<text x="135.20" y="410.20" font-family="Liberation Sans, sans-serif" font-size="8.6" font-weight="bold" text-anchor="middle" fill="#fff" fill-opacity="0.92" letter-spacing="0.5">*</text>
<rect x="145.40" y="399.30" width="20.90" height="17.00" fill="#9090f2" stroke="#d8d8e0" stroke-opacity="0.6" stroke-width="0.4"/>
<rect x="166.30" y="399.30" width="20.90" height="17.00" fill="#6a6af0" stroke="#d8d8e0" stroke-opacity="0.6" stroke-width="0.4"/>
<rect x="187.20" y="399.30" width="20.90" height="17.00" fill="#2020ee" stroke="#d8d8e0" stroke-opacity="0.6" stroke-width="0.4"/>
<text x="197.90" y="410.20" font-family="Liberation Sans, sans-serif" font-size="8.6" font-weight="bold" text-anchor="middle" fill="#fff" fill-opacity="0.92" letter-spacing="0.5">**</text>
<text x="209.3" y="291.9" font-family="Liberation Sans, sans-serif" font-size="6.5" fill="#000" stroke="#000" stroke-width="0.15">Bacteroidota</text>
<text x="209.3" y="308.9" font-family="Liberation Sans, sans-serif" font-size="6.5" fill="#000" stroke="#000" stroke-width="0.15">Pseudomonadota</text>
<text x="209.3" y="325.9" font-family="Liberation Sans, sans-serif" font-size="6.5" fill="#000" stroke="#000" stroke-width="0.15">Patescibacteria</text>
<text x="209.3" y="342.9" font-family="Liberation Sans, sans-serif" font-size="6.5" fill="#000" stroke="#000" stroke-width="0.15">Cyanobacteria</text>
<text x="209.3" y="359.9" font-family="Liberation Sans, sans-serif" font-size="6.5" fill="#000" stroke="#000" stroke-width="0.15">Bacillota</text>
<text x="209.3" y="376.9" font-family="Liberation Sans, sans-serif" font-size="6.5" fill="#000" stroke="#000" stroke-width="0.15">Chloroflexota</text>
<text x="209.3" y="393.9" font-family="Liberation Sans, sans-serif" font-size="6.5" fill="#000" stroke="#000" stroke-width="0.15">Actinomycetota</text>
<text x="209.3" y="410.9" font-family="Liberation Sans, sans-serif" font-size="6.5" fill="#000" stroke="#000" stroke-width="0.15">Acidobacteriota</text>
<text transform="translate(26.2,279) rotate(-42)" font-family="Liberation Sans, sans-serif" font-size="7" fill="#111" stroke="#111" stroke-width="0.2">B_As</text>
<text transform="translate(43.7,279) rotate(-42)" font-family="Liberation Sans, sans-serif" font-size="7" fill="#111" stroke="#111" stroke-width="0.2">B_As(III)</text>
<text transform="translate(65.2,279) rotate(-42)" font-family="Liberation Sans, sans-serif" font-size="7" fill="#111" stroke="#111" stroke-width="0.2">B_As(V)</text>
<text transform="translate(90.5,278.4) rotate(-42)" font-family="Liberation Sans, sans-serif" font-size="7" fill="#111" stroke="#111" stroke-width="0.2">As<tspan font-size="4.2" dy="1">PO4</tspan></text>
<text transform="translate(111.8,278.4) rotate(-42)" font-family="Liberation Sans, sans-serif" font-size="7" fill="#111" stroke="#111" stroke-width="0.2">As<tspan font-size="4.2" dy="1">HCl</tspan></text>
<text transform="translate(133.1,278.4) rotate(-42)" font-family="Liberation Sans, sans-serif" font-size="7" fill="#111" stroke="#111" stroke-width="0.2">As<tspan font-size="4.2" dy="1">Bw</tspan></text>
<text transform="translate(154.3,278.4) rotate(-42)" font-family="Liberation Sans, sans-serif" font-size="7" fill="#111" stroke="#111" stroke-width="0.2">As<tspan font-size="4.2" dy="1">Ox</tspan></text>
<text transform="translate(175.2,278.4) rotate(-42)" font-family="Liberation Sans, sans-serif" font-size="7" fill="#111" stroke="#111" stroke-width="0.2">As<tspan font-size="4.2" dy="1">s</tspan></text>
<text transform="translate(194.1,279) rotate(-42)" font-family="Liberation Sans, sans-serif" font-size="7" fill="#111" stroke="#111" stroke-width="0.2">T_As</text>
<rect x="269.1" y="279.9" width="6" height="91.3" fill="url(#gc)"/>
<text x="278.8" y="290.6" font-family="Liberation Sans, sans-serif" font-size="6.3" fill="#222" stroke="#222" stroke-width="0.15">0.6</text>
<text x="278.8" y="305.7" font-family="Liberation Sans, sans-serif" font-size="6.3" fill="#222" stroke="#222" stroke-width="0.15">0.4</text>
<text x="278.8" y="321.1" font-family="Liberation Sans, sans-serif" font-size="6.3" fill="#222" stroke="#222" stroke-width="0.15">0.2</text>
<text x="278.8" y="335.7" font-family="Liberation Sans, sans-serif" font-size="6.3" fill="#222" stroke="#222" stroke-width="0.15">0</text>
<text x="276.6" y="351.3" font-family="Liberation Sans, sans-serif" font-size="6.3" fill="#222" stroke="#222" stroke-width="0.15">−0.2</text>
<text x="276.6" y="367.5" font-family="Liberation Sans, sans-serif" font-size="6.3" fill="#222" stroke="#222" stroke-width="0.15">−0.4</text>
<text x="1.1" y="254" font-family="Liberation Sans, sans-serif" font-weight="bold" font-size="8.4" fill="#111">(c)</text>
</svg>
</body></html>
